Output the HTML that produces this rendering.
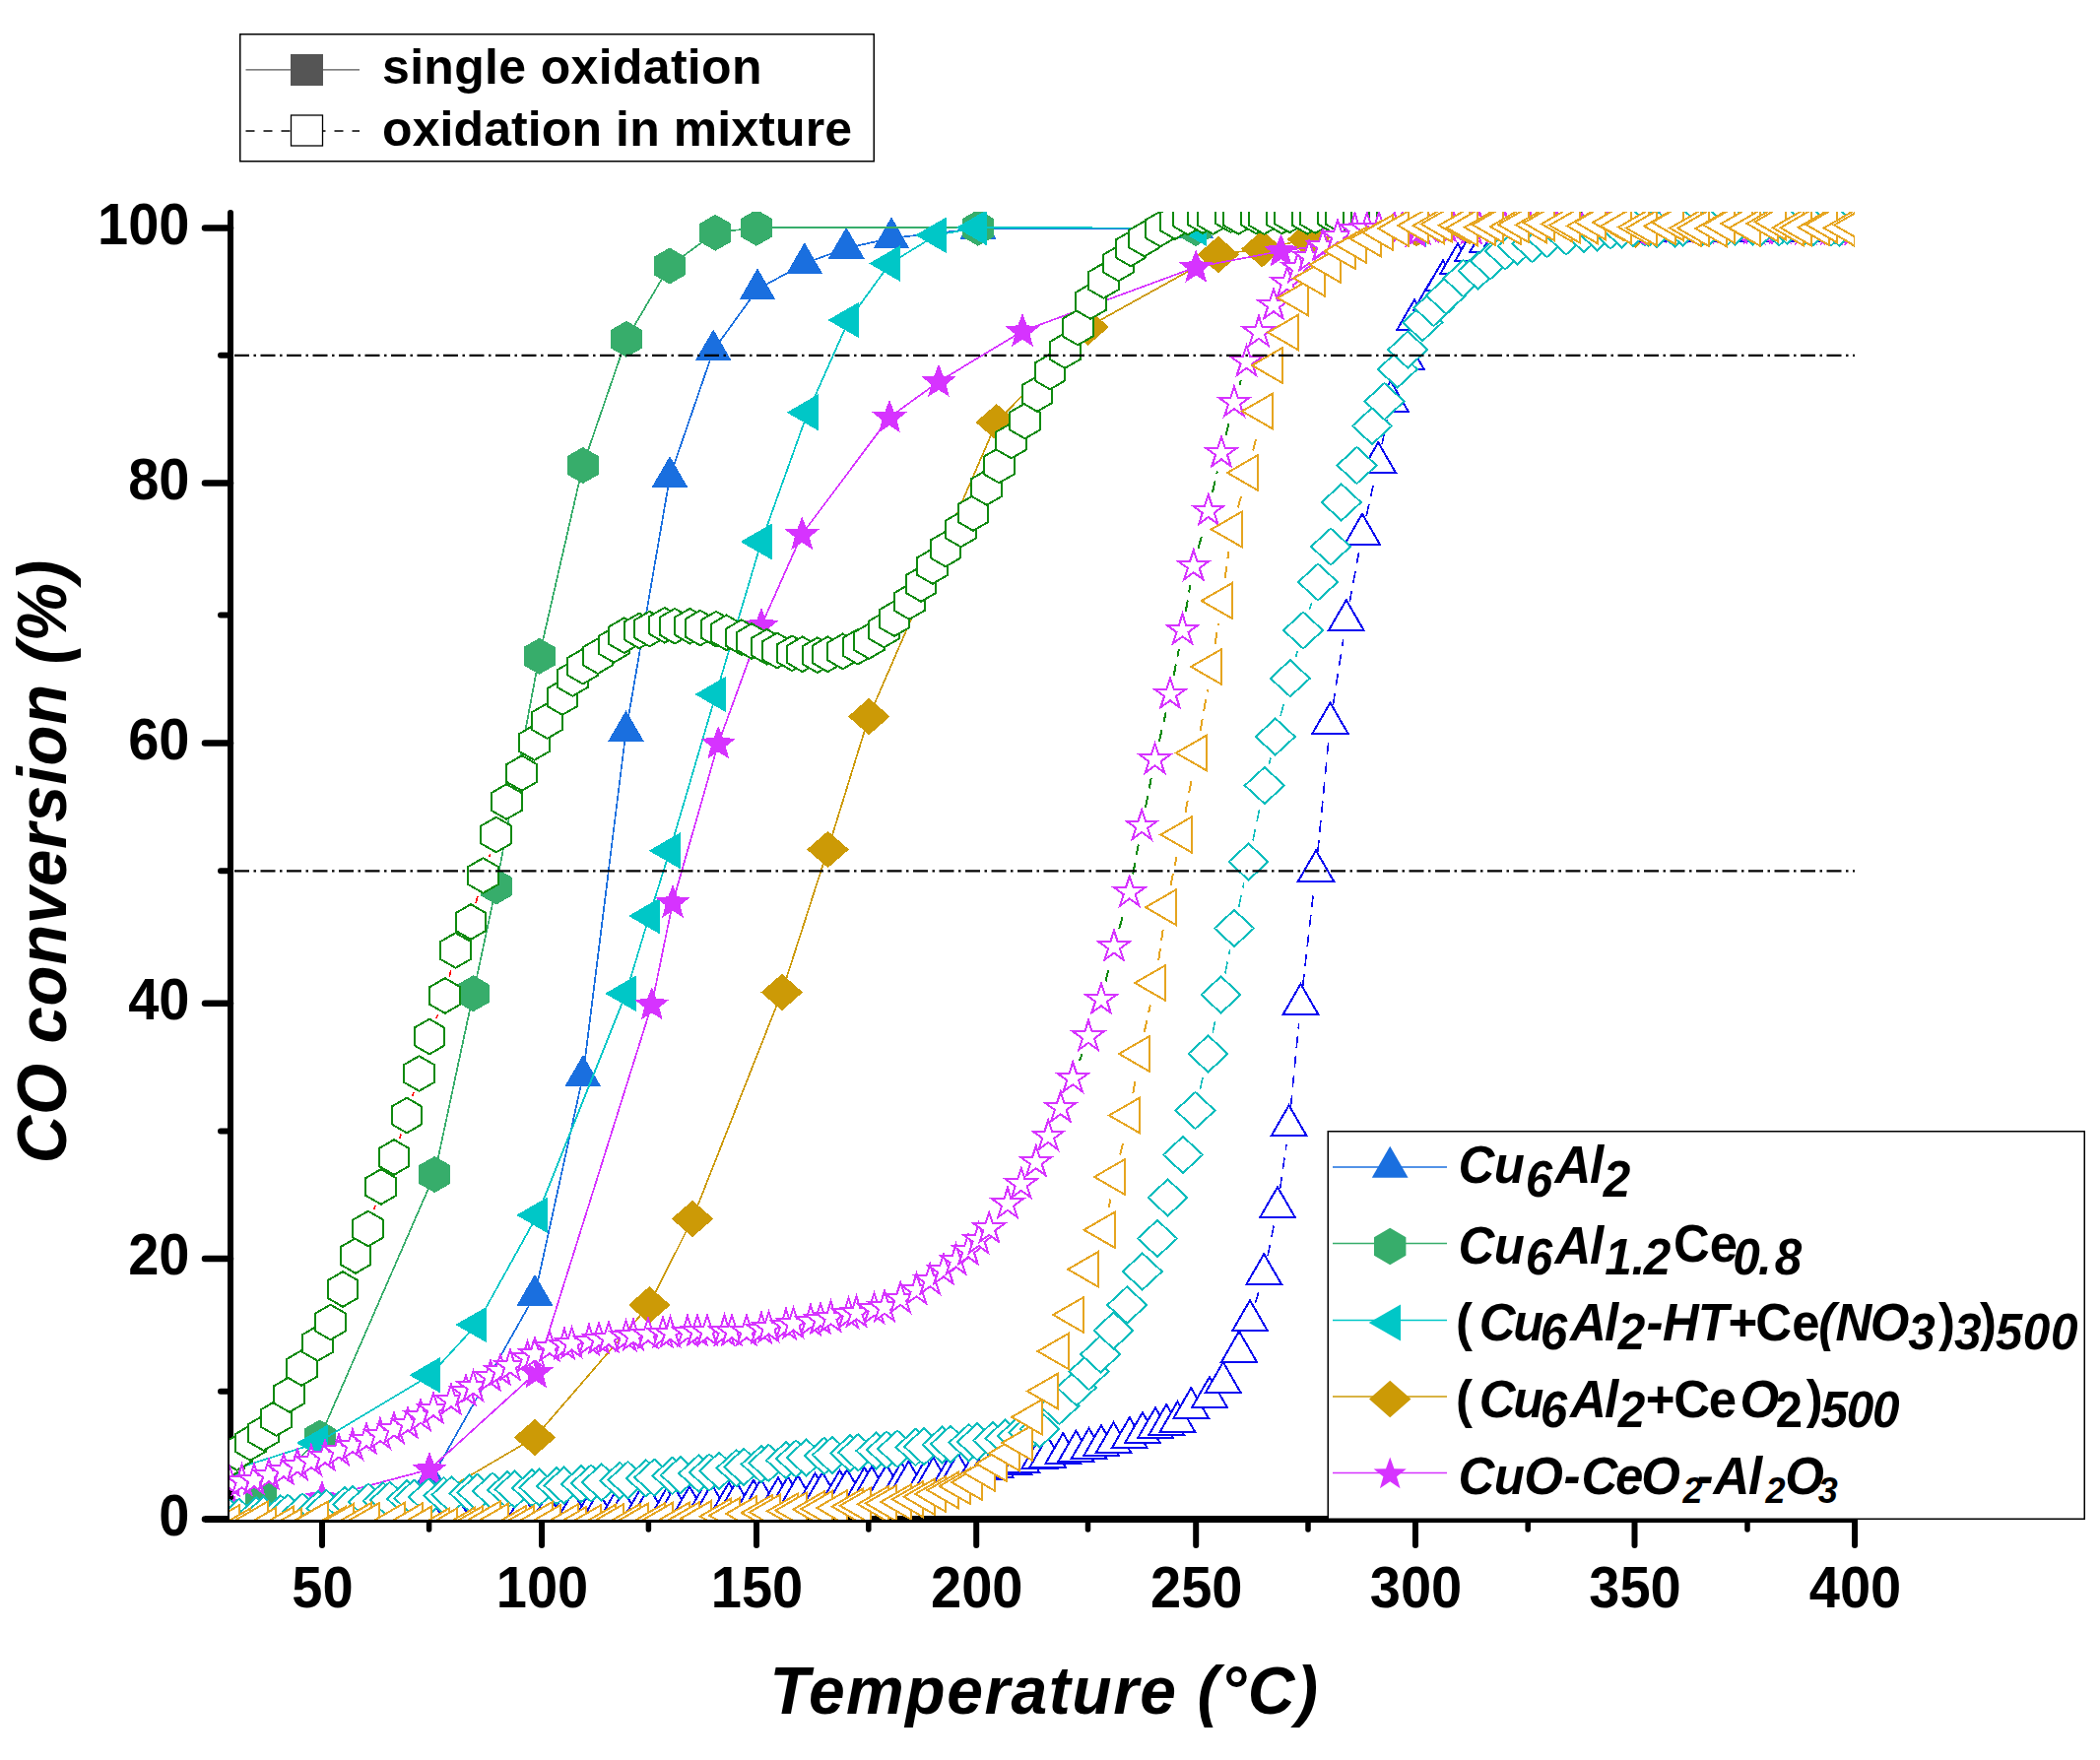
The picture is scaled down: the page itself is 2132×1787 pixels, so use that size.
<!DOCTYPE html>
<html lang="en"><head><meta charset="utf-8"><title>CO conversion vs temperature</title>
<style>html,body{margin:0;padding:0;background:#fff}svg{display:block}</style></head>
<body>
<svg width="2132" height="1787" viewBox="0 0 2132 1787">
<rect width="2132" height="1787" fill="#fff"/>
<defs><clipPath id="c"><rect x="233" y="215" width="1650" height="1328"/></clipPath></defs>
<g stroke="#000" stroke-linecap="round" fill="none">
<line x1="234" y1="216" x2="234" y2="1542.5" stroke-width="6"/>
<line x1="208" y1="1542.5" x2="1883" y2="1542.5" stroke-width="7" stroke-linecap="butt"/>
<line x1="208" y1="1542.5" x2="234" y2="1542.5" stroke-width="6.5"/>
<line x1="224" y1="1412.7" x2="234" y2="1412.7" stroke-width="6"/>
<line x1="208" y1="1278.0" x2="234" y2="1278.0" stroke-width="6.5"/>
<line x1="224" y1="1148.6" x2="234" y2="1148.6" stroke-width="6"/>
<line x1="208" y1="1018.8" x2="234" y2="1018.8" stroke-width="6.5"/>
<line x1="224" y1="884.3" x2="234" y2="884.3" stroke-width="6"/>
<line x1="208" y1="754.6" x2="234" y2="754.6" stroke-width="6.5"/>
<line x1="224" y1="624.6" x2="234" y2="624.6" stroke-width="6"/>
<line x1="208" y1="490.5" x2="234" y2="490.5" stroke-width="6.5"/>
<line x1="224" y1="360.8" x2="234" y2="360.8" stroke-width="6"/>
<line x1="208" y1="231.5" x2="234" y2="231.5" stroke-width="6.5"/>
<line x1="327.0" y1="1543" x2="327.0" y2="1569" stroke-width="6"/>
<line x1="435.6" y1="1543" x2="435.6" y2="1553" stroke-width="5.5"/>
<line x1="550.0" y1="1543" x2="550.0" y2="1569" stroke-width="6"/>
<line x1="658.4" y1="1543" x2="658.4" y2="1553" stroke-width="5.5"/>
<line x1="768.0" y1="1543" x2="768.0" y2="1569" stroke-width="6"/>
<line x1="881.8" y1="1543" x2="881.8" y2="1553" stroke-width="5.5"/>
<line x1="991.2" y1="1543" x2="991.2" y2="1569" stroke-width="6"/>
<line x1="1104.5" y1="1543" x2="1104.5" y2="1553" stroke-width="5.5"/>
<line x1="1214.2" y1="1543" x2="1214.2" y2="1569" stroke-width="6"/>
<line x1="1328.0" y1="1543" x2="1328.0" y2="1553" stroke-width="5.5"/>
<line x1="1437.0" y1="1543" x2="1437.0" y2="1569" stroke-width="6"/>
<line x1="1551.2" y1="1543" x2="1551.2" y2="1553" stroke-width="5.5"/>
<line x1="1659.5" y1="1543" x2="1659.5" y2="1569" stroke-width="6"/>
<line x1="1774.0" y1="1543" x2="1774.0" y2="1553" stroke-width="5.5"/>
<line x1="1883.0" y1="1543" x2="1883.0" y2="1569" stroke-width="6"/>
</g>
<g font-family="'Liberation Sans', Arial, sans-serif" font-weight="bold" font-size="56" fill="#000">
<text transform="translate(192.5,1558.8) scale(1,1.07)" text-anchor="end">0</text>
<text transform="translate(192.5,1294.3) scale(1,1.07)" text-anchor="end">20</text>
<text transform="translate(192.5,1035.1) scale(1,1.07)" text-anchor="end">40</text>
<text transform="translate(192.5,770.9) scale(1,1.07)" text-anchor="end">60</text>
<text transform="translate(192.5,506.8) scale(1,1.07)" text-anchor="end">80</text>
<text transform="translate(192.5,247.8) scale(1,1.07)" text-anchor="end">100</text>
<text transform="translate(327.5,1631.7) scale(1,1.07)" text-anchor="middle">50</text>
<text transform="translate(550.5,1631.7) scale(1,1.07)" text-anchor="middle">100</text>
<text transform="translate(768.5,1631.7) scale(1,1.07)" text-anchor="middle">150</text>
<text transform="translate(991.8,1631.7) scale(1,1.07)" text-anchor="middle">200</text>
<text transform="translate(1214.8,1631.7) scale(1,1.07)" text-anchor="middle">250</text>
<text transform="translate(1437.5,1631.7) scale(1,1.07)" text-anchor="middle">300</text>
<text transform="translate(1660.0,1631.7) scale(1,1.07)" text-anchor="middle">350</text>
<text transform="translate(1883.5,1631.7) scale(1,1.07)" text-anchor="middle">400</text>
</g>
<g font-family="'Liberation Sans', Arial, sans-serif" font-weight="bold" font-style="italic" fill="#000">
<text id="xt" transform="translate(781.5,1739.5) scale(1,1.04)" font-size="66" textLength="556.5" lengthAdjust="spacing">Temperature (°C)</text>
<text id="yt" transform="translate(67,1181.2) rotate(-90) scale(1,1.04)" font-size="67" textLength="612.5" lengthAdjust="spacing">CO conversion (%)</text>
</g>
<g clip-path="url(#c)" shape-rendering="crispEdges">
<polyline points="275.3,1539.0 327.0,1539.0 437.0,1503.0 543.0,1315.0 591.8,1092.5 635.5,742.5 680.0,484.4 724.2,355.8 769.0,293.8 816.8,267.5 859.2,252.0 905.0,241.8 993.0,232.0 1214.0,231.5" fill="none" stroke="#1a6fdf" stroke-width="1.7"/>
<path d="M275.3 1517.7L293.7 1549.7L256.9 1549.7ZM327.0 1517.7L345.4 1549.7L308.6 1549.7ZM437.0 1481.7L455.4 1513.7L418.6 1513.7ZM543.0 1293.7L561.4 1325.7L524.6 1325.7ZM591.8 1071.2L610.2 1103.2L573.3 1103.2ZM635.5 721.2L653.9 753.1L617.1 753.1ZM680.0 463.1L698.4 495.0L661.6 495.0ZM724.2 334.4L742.7 366.4L705.8 366.4ZM769.0 272.4L787.4 304.4L750.6 304.4ZM816.8 246.2L835.2 278.1L798.3 278.1ZM859.2 230.7L877.7 262.6L840.8 262.6ZM905.0 220.4L923.4 252.4L886.6 252.4ZM993.0 210.7L1011.4 242.7L974.6 242.7ZM1214.0 210.2L1232.4 242.2L1195.6 242.2Z" fill="#1a6fdf"/>
<polyline points="265.3,1518.5 324.5,1460.0 441.2,1192.5 480.5,1008.8 503.8,900.0 547.5,666.2 591.8,472.5 636.0,344.2 679.8,270.0 726.2,236.2 768.0,231.2 993.0,231.2 1214.0,231.5" fill="none" stroke="#37ad6b" stroke-width="1.7"/>
<path d="M265.3 1500.0L281.3 1509.2L281.3 1527.8L265.3 1537.0L249.3 1527.8L249.3 1509.2ZM324.5 1441.5L340.5 1450.8L340.5 1469.2L324.5 1478.5L308.5 1469.2L308.5 1450.8ZM441.2 1174.0L457.3 1183.2L457.3 1201.8L441.2 1211.0L425.2 1201.8L425.2 1183.2ZM480.5 990.2L496.5 999.5L496.5 1018.0L480.5 1027.2L464.5 1018.0L464.5 999.5ZM503.8 881.5L519.8 890.8L519.8 909.2L503.8 918.5L487.7 909.2L487.7 890.8ZM547.5 647.8L563.5 657.0L563.5 675.5L547.5 684.8L531.5 675.5L531.5 657.0ZM591.8 454.0L607.8 463.2L607.8 481.8L591.8 491.0L575.7 481.8L575.7 463.2ZM636.0 325.8L652.0 335.0L652.0 353.5L636.0 362.8L620.0 353.5L620.0 335.0ZM679.8 251.5L695.8 260.8L695.8 279.2L679.8 288.5L663.7 279.2L663.7 260.8ZM726.2 217.8L742.3 227.0L742.3 245.5L726.2 254.8L710.2 245.5L710.2 227.0ZM768.0 212.8L784.0 222.0L784.0 240.5L768.0 249.8L752.0 240.5L752.0 222.0ZM993.0 212.8L1009.0 222.0L1009.0 240.5L993.0 249.8L977.0 240.5L977.0 222.0ZM1214.0 213.0L1230.0 222.2L1230.0 240.8L1214.0 250.0L1198.0 240.8L1198.0 222.2Z" fill="#37ad6b"/>
<polyline points="233.7,1493.0 322.2,1465.0 436.8,1396.2 483.8,1345.0 545.5,1233.8 635.5,1008.8 659.2,930.0 680.0,863.8 726.8,705.0 773.0,550.0 820.0,418.8 861.8,325.0 903.5,267.5 950.5,238.8 991.8,231.2 1214.0,231.5 1437.0,232.0 1660.0,232.0 1883.0,232.0" fill="none" stroke="#00c7c7" stroke-width="1.7"/>
<path d="M212.4 1493.0L244.3 1474.6L244.3 1511.4ZM300.9 1465.0L332.8 1446.6L332.8 1483.4ZM415.4 1396.2L447.4 1377.8L447.4 1414.7ZM462.4 1345.0L494.4 1326.6L494.4 1363.4ZM524.2 1233.8L556.1 1215.3L556.1 1252.2ZM614.2 1008.8L646.1 990.3L646.1 1027.2ZM638.0 930.0L669.9 911.6L669.9 948.4ZM658.7 863.8L690.6 845.3L690.6 882.2ZM705.5 705.0L737.4 686.6L737.4 723.4ZM751.7 550.0L783.6 531.6L783.6 568.4ZM798.7 418.8L830.6 400.3L830.6 437.2ZM840.5 325.0L872.4 306.6L872.4 343.4ZM882.2 267.5L914.1 249.1L914.1 285.9ZM929.2 238.8L961.1 220.3L961.1 257.2ZM970.5 231.2L1002.4 212.8L1002.4 249.7ZM1192.7 231.5L1224.7 213.1L1224.7 249.9ZM1415.7 232.0L1447.7 213.6L1447.7 250.4ZM1638.7 232.0L1670.7 213.6L1670.7 250.4ZM1861.7 232.0L1893.7 213.6L1893.7 250.4Z" fill="#00c7c7"/>
<polyline points="327.0,1541.0 436.8,1522.0 543.0,1459.5 659.2,1325.0 703.0,1237.5 793.8,1007.5 840.5,862.5 882.2,727.5 1011.8,428.8 1104.5,332.0 1236.8,258.5 1281.4,252.6 1328.0,243.0 1438.0,232.0 1660.5,233.0 1883.0,233.0" fill="none" stroke="#cc9a06" stroke-width="1.7"/>
<path d="M305.8 1541.0L327.0 1522.2L348.2 1541.0L327.0 1559.8ZM415.5 1522.0L436.8 1503.2L458.0 1522.0L436.8 1540.8ZM521.8 1459.5L543.0 1440.8L564.2 1459.5L543.0 1478.2ZM638.0 1325.0L659.2 1306.2L680.5 1325.0L659.2 1343.8ZM681.8 1237.5L703.0 1218.8L724.2 1237.5L703.0 1256.2ZM772.5 1007.5L793.8 988.8L815.0 1007.5L793.8 1026.2ZM819.2 862.5L840.5 843.8L861.8 862.5L840.5 881.2ZM861.0 727.5L882.2 708.8L903.5 727.5L882.2 746.2ZM990.5 428.8L1011.8 410.0L1033.0 428.8L1011.8 447.5ZM1083.2 332.0L1104.5 313.2L1125.8 332.0L1104.5 350.8ZM1215.5 258.5L1236.8 239.8L1258.0 258.5L1236.8 277.2ZM1260.2 252.6L1281.4 233.8L1302.7 252.6L1281.4 271.4ZM1306.8 243.0L1328.0 224.2L1349.2 243.0L1328.0 261.8ZM1416.8 232.0L1438.0 213.2L1459.2 232.0L1438.0 250.8ZM1639.2 233.0L1660.5 214.2L1681.8 233.0L1660.5 251.8ZM1861.8 233.0L1883.0 214.2L1904.2 233.0L1883.0 251.8Z" fill="#cc9a06"/>
<polyline points="238.0,1536.0 327.0,1521.0 436.0,1492.0 544.2,1393.8 661.8,1020.0 683.0,916.2 729.2,755.0 773.0,635.0 814.2,542.5 903.0,423.8 953.0,387.5 1038.0,336.2 1214.2,271.2 1300.5,255.0 1437.0,236.0 1660.0,234.0 1883.0,234.0" fill="none" stroke="#d633ff" stroke-width="1.7"/>
<path d="M238.0 1517.9L242.6 1530.1L255.7 1530.8L245.5 1538.9L248.9 1551.5L238.0 1544.4L227.1 1551.5L230.5 1538.9L220.3 1530.8L233.4 1530.1ZM327.0 1502.9L331.6 1515.1L344.7 1515.8L334.5 1523.9L337.9 1536.5L327.0 1529.4L316.1 1536.5L319.5 1523.9L309.3 1515.8L322.4 1515.1ZM436.0 1473.9L440.6 1486.1L453.7 1486.8L443.5 1494.9L446.9 1507.5L436.0 1500.4L425.1 1507.5L428.5 1494.9L418.3 1486.8L431.4 1486.1ZM544.2 1375.7L548.9 1387.9L561.9 1388.5L551.8 1396.7L555.2 1409.3L544.2 1402.2L533.3 1409.3L536.7 1396.7L526.6 1388.5L539.6 1387.9ZM661.8 1001.9L666.4 1014.1L679.4 1014.8L669.3 1022.9L672.7 1035.5L661.8 1028.4L650.8 1035.5L654.2 1022.9L644.1 1014.8L657.1 1014.1ZM683.0 898.1L687.6 910.4L700.7 911.0L690.5 919.2L693.9 931.8L683.0 924.6L672.1 931.8L675.5 919.2L665.3 911.0L678.4 910.4ZM729.2 736.9L733.9 749.1L746.9 749.8L736.8 757.9L740.2 770.5L729.2 763.4L718.3 770.5L721.7 757.9L711.6 749.8L724.6 749.1ZM773.0 616.9L777.6 629.1L790.7 629.8L780.5 637.9L783.9 650.5L773.0 643.4L762.1 650.5L765.5 637.9L755.3 629.8L768.4 629.1ZM814.2 524.4L818.9 536.6L831.9 537.3L821.8 545.4L825.2 558.0L814.2 550.9L803.3 558.0L806.7 545.4L796.6 537.3L809.6 536.6ZM903.0 405.6L907.6 417.9L920.7 418.5L910.5 426.7L913.9 439.3L903.0 432.1L892.1 439.3L895.5 426.7L885.3 418.5L898.4 417.9ZM953.0 369.4L957.6 381.6L970.7 382.3L960.5 390.4L963.9 403.0L953.0 395.9L942.1 403.0L945.5 390.4L935.3 382.3L948.4 381.6ZM1038.0 318.1L1042.6 330.4L1055.7 331.0L1045.5 339.2L1048.9 351.8L1038.0 344.6L1027.1 351.8L1030.5 339.2L1020.3 331.0L1033.4 330.4ZM1214.2 253.2L1218.9 265.4L1231.9 266.0L1221.8 274.2L1225.2 286.8L1214.2 279.6L1203.3 286.8L1206.7 274.2L1196.6 266.0L1209.6 265.4ZM1300.5 236.9L1305.1 249.1L1318.2 249.8L1308.0 257.9L1311.4 270.5L1300.5 263.4L1289.6 270.5L1293.0 257.9L1282.8 249.8L1295.9 249.1ZM1437.0 217.9L1441.6 230.1L1454.7 230.8L1444.5 238.9L1447.9 251.5L1437.0 244.4L1426.1 251.5L1429.5 238.9L1419.3 230.8L1432.4 230.1ZM1660.0 215.9L1664.6 228.1L1677.7 228.8L1667.5 236.9L1670.9 249.5L1660.0 242.4L1649.1 249.5L1652.5 236.9L1642.3 228.8L1655.4 228.1ZM1883.0 215.9L1887.6 228.1L1900.7 228.8L1890.5 236.9L1893.9 249.5L1883.0 242.4L1872.1 249.5L1875.5 236.9L1865.3 228.8L1878.4 228.1Z" fill="#d633ff"/>
<path d="M1274.5 1322.8L1277.7 1312.2M1287.0 1275.4L1293.2 1244.6M1299.6 1207.2L1306.0 1161.8M1310.4 1124.1L1318.7 1038.7M1322.7 1000.9L1333.8 903.1M1337.8 865.3L1348.7 753.2M1353.4 715.5L1363.8 648.8M1370.2 611.3L1379.5 561.2M1387.2 524.0L1395.1 488.5M1403.0 451.4L1408.0 426.1M1418.5 389.8L1421.2 382.7" fill="none" stroke="#0a0af0" stroke-width="1.6" stroke-dasharray="12 8"/>
<g fill="#fff" stroke="#0a0af0" stroke-width="2.0">
<path d="M233.0 1524.2L251.0 1555.4L215.0 1555.4Z"/>
<path d="M243.3 1525.5L261.4 1556.7L225.3 1556.7Z"/>
<path d="M261.2 1522.4L279.2 1553.6L243.2 1553.6Z"/>
<path d="M269.0 1524.9L287.1 1556.1L251.0 1556.1Z"/>
<path d="M286.9 1524.2L304.9 1555.4L268.9 1555.4Z"/>
<path d="M294.7 1524.9L312.7 1556.1L276.7 1556.1Z"/>
<path d="M312.6 1523.7L330.6 1554.9L294.6 1554.9Z"/>
<path d="M320.4 1521.9L338.4 1553.1L302.4 1553.1Z"/>
<path d="M338.3 1523.7L356.3 1554.9L320.3 1554.9Z"/>
<path d="M346.1 1522.5L364.1 1553.7L328.1 1553.7Z"/>
<path d="M364.0 1521.8L382.0 1553.0L345.9 1553.0Z"/>
<path d="M371.8 1521.7L389.8 1552.9L353.8 1552.9Z"/>
<path d="M389.7 1523.5L407.7 1554.7L371.6 1554.7Z"/>
<path d="M400.0 1522.2L418.0 1553.4L382.0 1553.4Z"/>
<path d="M410.8 1521.7L428.8 1552.9L392.8 1552.9Z"/>
<path d="M429.2 1521.0L447.2 1552.2L411.2 1552.2Z"/>
<path d="M437.5 1520.6L455.5 1551.8L419.5 1551.8Z"/>
<path d="M455.8 1519.9L473.8 1551.1L437.8 1551.1Z"/>
<path d="M464.2 1519.5L482.2 1550.7L446.2 1550.7Z"/>
<path d="M482.5 1518.8L500.5 1550.0L464.5 1550.0Z"/>
<path d="M490.8 1518.4L508.8 1549.6L472.8 1549.6Z"/>
<path d="M509.2 1517.7L527.2 1548.9L491.2 1548.9Z"/>
<path d="M520.0 1517.2L538.0 1548.4L502.0 1548.4Z"/>
<path d="M530.4 1516.2L548.4 1547.4L512.3 1547.4Z"/>
<path d="M548.2 1516.3L566.2 1547.5L530.2 1547.5Z"/>
<path d="M556.1 1515.9L574.1 1547.1L538.1 1547.1Z"/>
<path d="M573.9 1513.7L591.9 1544.9L555.9 1544.9Z"/>
<path d="M581.8 1514.6L599.8 1545.8L563.8 1545.8Z"/>
<path d="M599.6 1513.5L617.7 1544.7L581.6 1544.7Z"/>
<path d="M607.5 1514.2L625.5 1545.4L589.5 1545.4Z"/>
<path d="M625.4 1513.5L643.4 1544.7L607.3 1544.7Z"/>
<path d="M633.2 1513.5L651.2 1544.7L615.2 1544.7Z"/>
<path d="M651.1 1510.1L669.1 1541.3L633.1 1541.3Z"/>
<path d="M658.9 1509.9L676.9 1541.1L640.9 1541.1Z"/>
<path d="M676.8 1511.0L694.8 1542.2L658.8 1542.2Z"/>
<path d="M684.6 1510.0L702.7 1541.2L666.6 1541.2Z"/>
<path d="M700.0 1509.2L718.0 1540.4L682.0 1540.4Z"/>
<path d="M715.0 1507.7L733.0 1538.9L697.0 1538.9Z"/>
<path d="M722.5 1507.0L740.5 1538.2L704.5 1538.2Z"/>
<path d="M740.0 1505.2L758.0 1536.4L722.0 1536.4Z"/>
<path d="M747.5 1504.5L765.5 1535.7L729.5 1535.7Z"/>
<path d="M765.0 1502.7L783.0 1533.9L747.0 1533.9Z"/>
<path d="M772.5 1502.0L790.5 1533.2L754.5 1533.2Z"/>
<path d="M790.0 1500.2L808.0 1531.4L772.0 1531.4Z"/>
<path d="M800.0 1499.2L818.0 1530.4L782.0 1530.4Z"/>
<path d="M810.0 1498.0L828.0 1529.2L792.0 1529.2Z"/>
<path d="M827.5 1495.9L845.5 1527.1L809.5 1527.1Z"/>
<path d="M835.0 1495.0L853.0 1526.2L817.0 1526.2Z"/>
<path d="M852.5 1492.9L870.5 1524.1L834.5 1524.1Z"/>
<path d="M860.0 1492.0L878.0 1523.2L842.0 1523.2Z"/>
<path d="M877.5 1489.9L895.5 1521.1L859.5 1521.1Z"/>
<path d="M885.0 1489.0L903.0 1520.2L867.0 1520.2Z"/>
<path d="M900.0 1487.2L918.0 1518.4L882.0 1518.4Z"/>
<path d="M915.0 1484.8L933.0 1516.0L897.0 1516.0Z"/>
<path d="M922.5 1483.6L940.5 1514.8L904.5 1514.8Z"/>
<path d="M940.0 1480.8L958.0 1512.0L922.0 1512.0Z"/>
<path d="M947.5 1479.6L965.5 1510.8L929.5 1510.8Z"/>
<path d="M965.0 1476.8L983.0 1508.0L947.0 1508.0Z"/>
<path d="M972.5 1475.6L990.5 1506.8L954.5 1506.8Z"/>
<path d="M990.0 1472.8L1008.0 1504.0L972.0 1504.0Z"/>
<path d="M1000.0 1471.2L1018.0 1502.4L982.0 1502.4Z"/>
<path d="M1010.7 1469.0L1028.7 1500.2L992.7 1500.2Z"/>
<path d="M1028.9 1465.4L1046.9 1496.6L1010.9 1496.6Z"/>
<path d="M1037.1 1463.7L1055.1 1494.9L1019.1 1494.9Z"/>
<path d="M1055.3 1460.0L1073.3 1491.2L1037.3 1491.2Z"/>
<path d="M1063.5 1458.4L1081.6 1489.6L1045.5 1489.6Z"/>
<path d="M1079.2 1455.2L1097.3 1486.4L1061.2 1486.4Z"/>
<path d="M1092.4 1452.7L1110.4 1483.9L1074.4 1483.9Z"/>
<path d="M1105.5 1450.2L1123.5 1481.4L1087.5 1481.4Z"/>
<path d="M1118.0 1447.2L1136.0 1478.4L1100.0 1478.4Z"/>
<path d="M1130.5 1444.2L1148.5 1475.4L1112.5 1475.4Z"/>
<path d="M1146.8 1439.2L1164.8 1470.4L1128.7 1470.4Z"/>
<path d="M1159.9 1434.2L1177.9 1465.4L1141.9 1465.4Z"/>
<path d="M1173.0 1429.2L1191.0 1460.4L1155.0 1460.4Z"/>
<path d="M1184.2 1426.1L1202.3 1457.3L1166.2 1457.3Z"/>
<path d="M1195.5 1423.0L1213.5 1454.2L1177.5 1454.2Z"/>
<path d="M1209.2 1409.2L1227.3 1440.4L1191.2 1440.4Z"/>
<path d="M1228.0 1398.0L1246.0 1429.2L1210.0 1429.2Z"/>
<path d="M1241.8 1383.0L1259.8 1414.2L1223.7 1414.2Z"/>
<path d="M1258.0 1351.7L1276.0 1382.9L1240.0 1382.9Z"/>
<path d="M1269.0 1320.2L1287.0 1351.4L1251.0 1351.4Z"/>
<path d="M1283.2 1273.2L1301.3 1304.4L1265.2 1304.4Z"/>
<path d="M1297.0 1205.2L1315.0 1236.4L1279.0 1236.4Z"/>
<path d="M1308.6 1122.2L1326.6 1153.4L1290.6 1153.4Z"/>
<path d="M1320.5 999.0L1338.5 1030.2L1302.5 1030.2Z"/>
<path d="M1336.0 863.5L1354.0 894.6L1318.0 894.6Z"/>
<path d="M1350.5 713.5L1368.5 744.6L1332.5 744.6Z"/>
<path d="M1366.8 609.2L1384.8 640.4L1348.7 640.4Z"/>
<path d="M1383.0 521.7L1401.0 552.9L1365.0 552.9Z"/>
<path d="M1399.2 449.2L1417.3 480.4L1381.2 480.4Z"/>
<path d="M1411.8 386.7L1429.8 417.9L1393.7 417.9Z"/>
<path d="M1428.0 344.2L1446.0 375.4L1410.0 375.4Z"/>
<path d="M1436.0 304.2L1454.0 335.4L1418.0 335.4Z"/>
<path d="M1453.0 284.2L1471.0 315.4L1435.0 315.4Z"/>
<path d="M1465.0 264.2L1483.0 295.4L1447.0 295.4Z"/>
<path d="M1480.0 247.2L1498.0 278.4L1462.0 278.4Z"/>
<path d="M1495.0 234.2L1513.0 265.4L1477.0 265.4Z"/>
<path d="M1510.0 225.2L1528.0 256.4L1492.0 256.4Z"/>
<path d="M1525.0 219.2L1543.0 250.4L1507.0 250.4Z"/>
<path d="M1545.0 215.2L1563.0 246.4L1527.0 246.4Z"/>
<path d="M1557.5 214.2L1575.5 245.4L1539.5 245.4Z"/>
<path d="M1570.0 213.2L1588.0 244.4L1552.0 244.4Z"/>
<path d="M1580.5 213.1L1598.6 244.3L1562.5 244.3Z"/>
<path d="M1598.6 213.3L1616.6 244.5L1580.6 244.5Z"/>
<path d="M1606.6 211.8L1624.6 243.0L1588.6 243.0Z"/>
<path d="M1624.7 211.9L1642.7 243.1L1606.7 243.1Z"/>
<path d="M1632.7 213.3L1650.7 244.5L1614.7 244.5Z"/>
<path d="M1650.8 213.7L1668.8 244.9L1632.7 244.9Z"/>
<path d="M1658.8 214.1L1676.8 245.3L1640.8 245.3Z"/>
<path d="M1676.8 213.3L1694.8 244.5L1658.8 244.5Z"/>
<path d="M1684.9 211.7L1702.9 242.9L1666.9 242.9Z"/>
<path d="M1702.9 213.9L1720.9 245.1L1684.9 245.1Z"/>
<path d="M1711.0 213.9L1729.0 245.1L1692.9 245.1Z"/>
<path d="M1729.0 214.0L1747.0 245.2L1711.0 245.2Z"/>
<path d="M1737.0 212.6L1755.1 243.8L1719.0 243.8Z"/>
<path d="M1755.1 212.0L1773.1 243.2L1737.1 243.2Z"/>
<path d="M1763.1 213.7L1781.1 244.9L1745.1 244.9Z"/>
<path d="M1781.2 211.9L1799.2 243.1L1763.2 243.1Z"/>
<path d="M1789.2 211.2L1807.2 242.4L1771.2 242.4Z"/>
<path d="M1807.2 213.5L1825.3 244.7L1789.2 244.7Z"/>
<path d="M1815.3 213.5L1833.3 244.7L1797.3 244.7Z"/>
<path d="M1833.3 213.3L1851.3 244.5L1815.3 244.5Z"/>
<path d="M1841.4 212.2L1859.4 243.4L1823.4 243.4Z"/>
<path d="M1859.4 213.4L1877.4 244.6L1841.4 244.6Z"/>
<path d="M1867.5 213.4L1885.5 244.6L1849.4 244.6Z"/>
<path d="M1883.0 212.2L1901.0 243.4L1865.0 243.4Z"/>
</g>
<path d="M379.6 1228.4L380.9 1224.1M405.9 1155.9L407.1 1151.6M418.6 1113.3L419.9 1109.2M443.1 1033.8L444.7 1029.7M456.3 991.5L457.9 984.5M483.1 916.7L485.4 908.3M496.6 869.9L497.7 866.6" fill="none" stroke="#ff0000" stroke-width="1.6" stroke-dasharray="7 6"/>
<g fill="#fff" stroke="#0f8a0f" stroke-width="2.0">
<path d="M233.0 1464.2L248.4 1473.1L248.4 1490.9L233.0 1499.8L217.6 1490.9L217.6 1473.1Z"/>
<path d="M240.5 1457.2L255.9 1466.1L255.9 1483.9L240.5 1492.8L225.1 1483.9L225.1 1466.1Z"/>
<path d="M254.2 1447.2L269.7 1456.1L269.7 1473.9L254.2 1482.8L238.8 1473.9L238.8 1456.1Z"/>
<path d="M267.5 1437.2L282.9 1446.1L282.9 1463.9L267.5 1472.8L252.1 1463.9L252.1 1446.1Z"/>
<path d="M280.5 1422.2L295.9 1431.1L295.9 1448.9L280.5 1457.8L265.1 1448.9L265.1 1431.1Z"/>
<path d="M293.8 1398.2L309.2 1407.1L309.2 1424.9L293.8 1433.8L278.3 1424.9L278.3 1407.1Z"/>
<path d="M306.2 1371.2L321.7 1380.1L321.7 1397.9L306.2 1406.8L290.8 1397.9L290.8 1380.1Z"/>
<path d="M322.5 1346.2L337.9 1355.1L337.9 1372.9L322.5 1381.8L307.1 1372.9L307.1 1355.1Z"/>
<path d="M335.5 1324.7L350.9 1333.6L350.9 1351.4L335.5 1360.3L320.1 1351.4L320.1 1333.6Z"/>
<path d="M348.0 1291.2L363.4 1300.1L363.4 1317.9L348.0 1326.8L332.6 1317.9L332.6 1300.1Z"/>
<path d="M361.0 1257.2L376.4 1266.1L376.4 1283.9L361.0 1292.8L345.6 1283.9L345.6 1266.1Z"/>
<path d="M373.8 1229.7L389.2 1238.6L389.2 1256.4L373.8 1265.3L358.3 1256.4L358.3 1238.6Z"/>
<path d="M386.8 1187.2L402.2 1196.1L402.2 1213.9L386.8 1222.8L371.3 1213.9L371.3 1196.1Z"/>
<path d="M400.0 1157.2L415.4 1166.1L415.4 1183.9L400.0 1192.8L384.6 1183.9L384.6 1166.1Z"/>
<path d="M413.0 1114.7L428.4 1123.6L428.4 1141.4L413.0 1150.3L397.6 1141.4L397.6 1123.6Z"/>
<path d="M425.5 1072.2L440.9 1081.1L440.9 1098.9L425.5 1107.8L410.1 1098.9L410.1 1081.1Z"/>
<path d="M436.0 1034.7L451.4 1043.6L451.4 1061.4L436.0 1070.3L420.6 1061.4L420.6 1043.6Z"/>
<path d="M451.8 993.2L467.2 1002.1L467.2 1019.9L451.8 1028.8L436.3 1019.9L436.3 1002.1Z"/>
<path d="M462.5 947.2L477.9 956.1L477.9 973.9L462.5 982.8L447.1 973.9L447.1 956.1Z"/>
<path d="M478.0 918.2L493.4 927.1L493.4 944.9L478.0 953.8L462.6 944.9L462.6 927.1Z"/>
<path d="M490.5 871.2L505.9 880.1L505.9 897.9L490.5 906.8L475.1 897.9L475.1 880.1Z"/>
<path d="M503.8 829.7L519.2 838.6L519.2 856.4L503.8 865.3L488.3 856.4L488.3 838.6Z"/>
<path d="M514.2 796.2L529.7 805.1L529.7 822.9L514.2 831.8L498.8 822.9L498.8 805.1Z"/>
<path d="M529.8 767.2L545.2 776.1L545.2 793.9L529.8 802.8L514.3 793.9L514.3 776.1Z"/>
<path d="M542.5 736.2L557.9 745.1L557.9 762.9L542.5 771.8L527.1 762.9L527.1 745.1Z"/>
<path d="M555.6 714.2L571.0 723.1L571.0 740.9L555.6 749.8L540.2 740.9L540.2 723.1Z"/>
<path d="M570.9 690.2L586.3 699.1L586.3 716.9L570.9 725.8L555.5 716.9L555.5 699.1Z"/>
<path d="M581.3 671.2L596.7 680.1L596.7 697.9L581.3 706.8L565.9 697.9L565.9 680.1Z"/>
<path d="M591.8 658.9L607.2 667.8L607.2 685.6L591.8 694.5L576.4 685.6L576.4 667.8Z"/>
<path d="M607.0 648.4L622.4 657.3L622.4 675.1L607.0 684.0L591.6 675.1L591.6 657.3Z"/>
<path d="M623.2 637.0L638.6 645.9L638.6 663.7L623.2 672.6L607.8 663.7L607.8 645.9Z"/>
<path d="M633.7 627.4L649.1 636.3L649.1 654.1L633.7 663.0L618.3 654.1L618.3 636.3Z"/>
<path d="M649.0 622.7L664.4 631.6L664.4 649.4L649.0 658.3L633.6 649.4L633.6 631.6Z"/>
<path d="M659.4 620.8L674.8 629.7L674.8 647.5L659.4 656.4L644.0 647.5L644.0 629.7Z"/>
<path d="M674.7 617.0L690.1 625.9L690.1 643.7L674.7 652.6L659.3 643.7L659.3 625.9Z"/>
<path d="M685.1 617.9L700.5 626.8L700.5 644.6L685.1 653.5L669.7 644.6L669.7 626.8Z"/>
<path d="M700.4 617.9L715.8 626.8L715.8 644.6L700.4 653.5L685.0 644.6L685.0 626.8Z"/>
<path d="M710.9 619.8L726.3 628.7L726.3 646.5L710.9 655.4L695.5 646.5L695.5 628.7Z"/>
<path d="M727.0 620.8L742.4 629.7L742.4 647.5L727.0 656.4L711.6 647.5L711.6 629.7Z"/>
<path d="M737.5 624.6L752.9 633.5L752.9 651.3L737.5 660.2L722.1 651.3L722.1 633.5Z"/>
<path d="M752.8 629.3L768.2 638.2L768.2 656.0L752.8 664.9L737.4 656.0L737.4 638.2Z"/>
<path d="M763.2 633.2L778.6 642.1L778.6 659.9L763.2 668.8L747.8 659.9L747.8 642.1Z"/>
<path d="M778.5 638.9L793.9 647.8L793.9 665.6L778.5 674.5L763.1 665.6L763.1 647.8Z"/>
<path d="M789.0 642.7L804.4 651.6L804.4 669.4L789.0 678.3L773.6 669.4L773.6 651.6Z"/>
<path d="M804.2 645.5L819.6 654.4L819.6 672.2L804.2 681.1L788.8 672.2L788.8 654.4Z"/>
<path d="M814.7 646.5L830.1 655.4L830.1 673.2L814.7 682.1L799.3 673.2L799.3 655.4Z"/>
<path d="M829.9 647.4L845.3 656.3L845.3 674.1L829.9 683.0L814.5 674.1L814.5 656.3Z"/>
<path d="M840.4 646.5L855.8 655.4L855.8 673.2L840.4 682.1L825.0 673.2L825.0 655.4Z"/>
<path d="M855.6 643.6L871.0 652.5L871.0 670.3L855.6 679.2L840.2 670.3L840.2 652.5Z"/>
<path d="M870.9 638.9L886.3 647.8L886.3 665.6L870.9 674.5L855.5 665.6L855.5 647.8Z"/>
<path d="M882.3 633.2L897.7 642.1L897.7 659.9L882.3 668.8L866.9 659.9L866.9 642.1Z"/>
<path d="M897.5 621.7L912.9 630.6L912.9 648.4L897.5 657.3L882.1 648.4L882.1 630.6Z"/>
<path d="M908.0 610.3L923.4 619.2L923.4 637.0L908.0 645.9L892.6 637.0L892.6 619.2Z"/>
<path d="M923.2 593.2L938.6 602.1L938.6 619.9L923.2 628.8L907.8 619.9L907.8 602.1Z"/>
<path d="M935.0 575.2L950.4 584.1L950.4 601.9L935.0 610.8L919.6 601.9L919.6 584.1Z"/>
<path d="M946.8 557.2L962.2 566.1L962.2 583.9L946.8 592.8L931.3 583.9L931.3 566.1Z"/>
<path d="M960.0 539.7L975.4 548.6L975.4 566.4L960.0 575.3L944.6 566.4L944.6 548.6Z"/>
<path d="M975.5 519.7L990.9 528.6L990.9 546.4L975.5 555.3L960.1 546.4L960.1 528.6Z"/>
<path d="M988.0 503.2L1003.4 512.1L1003.4 529.9L988.0 538.8L972.6 529.9L972.6 512.1Z"/>
<path d="M1001.8 477.2L1017.2 486.1L1017.2 503.9L1001.8 512.8L986.3 503.9L986.3 486.1Z"/>
<path d="M1014.2 454.7L1029.7 463.6L1029.7 481.4L1014.2 490.3L998.8 481.4L998.8 463.6Z"/>
<path d="M1026.8 429.7L1042.2 438.6L1042.2 456.4L1026.8 465.3L1011.3 456.4L1011.3 438.6Z"/>
<path d="M1040.5 409.7L1055.9 418.6L1055.9 436.4L1040.5 445.3L1025.1 436.4L1025.1 418.6Z"/>
<path d="M1053.0 382.2L1068.4 391.1L1068.4 408.9L1053.0 417.8L1037.6 408.9L1037.6 391.1Z"/>
<path d="M1066.0 359.7L1081.4 368.6L1081.4 386.4L1066.0 395.3L1050.6 386.4L1050.6 368.6Z"/>
<path d="M1081.2 338.2L1096.7 347.1L1096.7 364.9L1081.2 373.8L1065.8 364.9L1065.8 347.1Z"/>
<path d="M1094.2 314.7L1109.7 323.6L1109.7 341.4L1094.2 350.3L1078.8 341.4L1078.8 323.6Z"/>
<path d="M1107.2 288.2L1122.7 297.1L1122.7 314.9L1107.2 323.8L1091.8 314.9L1091.8 297.1Z"/>
<path d="M1120.5 267.2L1135.9 276.1L1135.9 293.9L1120.5 302.8L1105.1 293.9L1105.1 276.1Z"/>
<path d="M1135.5 249.7L1150.9 258.6L1150.9 276.4L1135.5 285.3L1120.1 276.4L1120.1 258.6Z"/>
<path d="M1148.0 234.7L1163.4 243.6L1163.4 261.4L1148.0 270.3L1132.6 261.4L1132.6 243.6Z"/>
<path d="M1161.8 224.7L1177.2 233.6L1177.2 251.4L1161.8 260.3L1146.3 251.4L1146.3 233.6Z"/>
<path d="M1178.0 214.7L1193.4 223.6L1193.4 241.4L1178.0 250.3L1162.6 241.4L1162.6 223.6Z"/>
<path d="M1193.0 207.2L1208.4 216.1L1208.4 233.9L1193.0 242.8L1177.6 233.9L1177.6 216.1Z"/>
<path d="M1206.0 202.7L1221.4 211.6L1221.4 229.4L1206.0 238.3L1190.6 229.4L1190.6 211.6Z"/>
<path d="M1221.0 201.2L1236.4 210.1L1236.4 227.9L1221.0 236.8L1205.6 227.9L1205.6 210.1Z"/>
<path d="M1231.5 202.2L1246.9 211.1L1246.9 228.9L1231.5 237.8L1216.1 228.9L1216.1 211.1Z"/>
<path d="M1249.5 200.3L1264.9 209.2L1264.9 227.0L1249.5 235.9L1234.0 227.0L1234.0 209.2Z"/>
<path d="M1257.4 202.0L1272.9 210.9L1272.9 228.7L1257.4 237.6L1242.0 228.7L1242.0 210.9Z"/>
<path d="M1275.4 201.7L1290.8 210.6L1290.8 228.4L1275.4 237.3L1260.0 228.4L1260.0 210.6Z"/>
<path d="M1283.4 202.2L1298.8 211.1L1298.8 228.9L1283.4 237.8L1268.0 228.9L1268.0 211.1Z"/>
<path d="M1301.4 201.6L1316.8 210.5L1316.8 228.3L1301.4 237.2L1286.0 228.3L1286.0 210.5Z"/>
<path d="M1309.4 200.5L1324.8 209.4L1324.8 227.2L1309.4 236.1L1293.9 227.2L1293.9 209.4Z"/>
<path d="M1327.3 201.9L1342.8 210.8L1342.8 228.6L1327.3 237.5L1311.9 228.6L1311.9 210.8Z"/>
<path d="M1335.3 201.1L1350.7 210.0L1350.7 227.8L1335.3 236.7L1319.9 227.8L1319.9 210.0Z"/>
<path d="M1353.3 200.8L1368.7 209.7L1368.7 227.5L1353.3 236.4L1337.9 227.5L1337.9 209.7Z"/>
<path d="M1361.3 200.9L1376.7 209.8L1376.7 227.6L1361.3 236.5L1345.9 227.6L1345.9 209.8Z"/>
<path d="M1379.3 202.2L1394.7 211.1L1394.7 228.9L1379.3 237.8L1363.8 228.9L1363.8 211.1Z"/>
<path d="M1387.2 200.8L1402.7 209.7L1402.7 227.5L1387.2 236.4L1371.8 227.5L1371.8 209.7Z"/>
<path d="M1405.2 201.0L1420.6 209.9L1420.6 227.7L1405.2 236.6L1389.8 227.7L1389.8 209.9Z"/>
<path d="M1413.2 202.0L1428.6 210.9L1428.6 228.7L1413.2 237.6L1397.8 228.7L1397.8 210.9Z"/>
<path d="M1431.2 202.5L1446.6 211.4L1446.6 229.2L1431.2 238.1L1415.8 229.2L1415.8 211.4Z"/>
<path d="M1439.2 202.5L1454.6 211.4L1454.6 229.2L1439.2 238.1L1423.8 229.2L1423.8 211.4Z"/>
<path d="M1457.1 202.3L1472.6 211.2L1472.6 229.0L1457.1 237.9L1441.7 229.0L1441.7 211.2Z"/>
<path d="M1465.1 201.9L1480.5 210.8L1480.5 228.6L1465.1 237.5L1449.7 228.6L1449.7 210.8Z"/>
<path d="M1483.1 200.6L1498.5 209.5L1498.5 227.3L1483.1 236.2L1467.7 227.3L1467.7 209.5Z"/>
<path d="M1491.1 201.3L1506.5 210.2L1506.5 228.0L1491.1 236.9L1475.7 228.0L1475.7 210.2Z"/>
<path d="M1509.1 201.9L1524.5 210.8L1524.5 228.6L1509.1 237.5L1493.7 228.6L1493.7 210.8Z"/>
<path d="M1517.0 201.8L1532.5 210.7L1532.5 228.5L1517.0 237.4L1501.6 228.5L1501.6 210.7Z"/>
<path d="M1535.0 200.9L1550.4 209.8L1550.4 227.6L1535.0 236.5L1519.6 227.6L1519.6 209.8Z"/>
<path d="M1543.0 201.8L1558.4 210.7L1558.4 228.5L1543.0 237.4L1527.6 228.5L1527.6 210.7Z"/>
<path d="M1561.0 201.6L1576.4 210.5L1576.4 228.3L1561.0 237.2L1545.6 228.3L1545.6 210.5Z"/>
<path d="M1569.0 202.3L1584.4 211.2L1584.4 229.0L1569.0 237.9L1553.6 229.0L1553.6 211.2Z"/>
<path d="M1587.0 202.4L1602.4 211.3L1602.4 229.1L1587.0 238.0L1571.5 229.1L1571.5 211.3Z"/>
<path d="M1594.9 202.7L1610.3 211.6L1610.3 229.4L1594.9 238.3L1579.5 229.4L1579.5 211.6Z"/>
<path d="M1612.9 200.9L1628.3 209.8L1628.3 227.6L1612.9 236.5L1597.5 227.6L1597.5 209.8Z"/>
<path d="M1620.9 201.1L1636.3 210.0L1636.3 227.8L1620.9 236.7L1605.5 227.8L1605.5 210.0Z"/>
<path d="M1638.9 202.4L1654.3 211.3L1654.3 229.1L1638.9 238.0L1623.5 229.1L1623.5 211.3Z"/>
<path d="M1646.9 201.9L1662.3 210.8L1662.3 228.6L1646.9 237.5L1631.4 228.6L1631.4 210.8Z"/>
<path d="M1664.8 201.3L1680.2 210.2L1680.2 228.0L1664.8 236.9L1649.4 228.0L1649.4 210.2Z"/>
<path d="M1672.8 201.2L1688.2 210.1L1688.2 227.9L1672.8 236.8L1657.4 227.9L1657.4 210.1Z"/>
<path d="M1690.8 201.4L1706.2 210.3L1706.2 228.1L1690.8 237.0L1675.4 228.1L1675.4 210.3Z"/>
<path d="M1698.8 202.4L1714.2 211.3L1714.2 229.1L1698.8 238.0L1683.4 229.1L1683.4 211.3Z"/>
<path d="M1716.8 201.6L1732.2 210.5L1732.2 228.3L1716.8 237.2L1701.3 228.3L1701.3 210.5Z"/>
<path d="M1724.7 202.8L1740.2 211.7L1740.2 229.5L1724.7 238.4L1709.3 229.5L1709.3 211.7Z"/>
<path d="M1742.7 202.0L1758.1 210.9L1758.1 228.7L1742.7 237.6L1727.3 228.7L1727.3 210.9Z"/>
<path d="M1750.7 202.7L1766.1 211.6L1766.1 229.4L1750.7 238.3L1735.3 229.4L1735.3 211.6Z"/>
<path d="M1768.7 202.0L1784.1 210.9L1784.1 228.7L1768.7 237.6L1753.3 228.7L1753.3 210.9Z"/>
<path d="M1776.7 202.3L1792.1 211.2L1792.1 229.0L1776.7 237.9L1761.2 229.0L1761.2 211.2Z"/>
<path d="M1794.6 202.9L1810.1 211.8L1810.1 229.6L1794.6 238.5L1779.2 229.6L1779.2 211.8Z"/>
<path d="M1802.6 201.5L1818.0 210.4L1818.0 228.2L1802.6 237.1L1787.2 228.2L1787.2 210.4Z"/>
<path d="M1820.6 201.2L1836.0 210.1L1836.0 227.9L1820.6 236.8L1805.2 227.9L1805.2 210.1Z"/>
<path d="M1828.6 201.6L1844.0 210.5L1844.0 228.3L1828.6 237.2L1813.2 228.3L1813.2 210.5Z"/>
<path d="M1846.6 202.8L1862.0 211.7L1862.0 229.5L1846.6 238.4L1831.1 229.5L1831.1 211.7Z"/>
<path d="M1854.5 201.6L1870.0 210.5L1870.0 228.3L1854.5 237.2L1839.1 228.3L1839.1 210.5Z"/>
<path d="M1872.5 202.4L1887.9 211.3L1887.9 229.1L1872.5 238.0L1857.1 229.1L1857.1 211.3Z"/>
<path d="M1883.0 202.2L1898.4 211.1L1898.4 228.9L1883.0 237.8L1867.6 228.9L1867.6 211.1Z"/>
</g>
<path d="M1095.9 1077.2L1098.4 1070.3M1122.5 996.5L1126.5 979.7M1136.2 943.0L1141.5 924.5M1150.2 887.6L1155.8 857.4M1162.9 820.1L1168.8 789.9M1176.8 752.7L1183.7 723.5M1191.6 686.3L1196.9 658.7M1203.7 621.3L1208.5 593.7M1216.6 556.6L1221.9 537.1M1230.9 500.2L1235.8 478.5M1244.7 441.6L1248.3 427.2M1258.5 390.6L1260.0 385.7" fill="none" stroke="#0f8a0f" stroke-width="2.0" stroke-dasharray="12 8"/>
<g fill="#fff" stroke="#d633ff" stroke-width="2.0">
<path d="M233.0 1488.5L236.7 1499.9L248.7 1499.9L239.0 1506.9L242.7 1518.3L233.0 1511.3L223.3 1518.3L227.0 1506.9L217.3 1499.9L229.3 1499.9Z"/>
<path d="M245.5 1487.5L249.2 1498.9L261.2 1498.9L251.5 1505.9L255.2 1517.3L245.5 1510.3L235.8 1517.3L239.5 1505.9L229.8 1498.9L241.8 1498.9Z"/>
<path d="M258.0 1486.5L261.7 1497.9L273.7 1497.9L264.0 1504.9L267.7 1516.3L258.0 1509.3L248.3 1516.3L252.0 1504.9L242.3 1497.9L254.3 1497.9Z"/>
<path d="M273.0 1481.5L276.7 1492.9L288.7 1492.9L279.0 1499.9L282.7 1511.3L273.0 1504.3L263.3 1511.3L267.0 1499.9L257.3 1492.9L269.3 1492.9Z"/>
<path d="M288.0 1476.5L291.7 1487.9L303.7 1487.9L294.0 1494.9L297.7 1506.3L288.0 1499.3L278.3 1506.3L282.0 1494.9L272.3 1487.9L284.3 1487.9Z"/>
<path d="M302.0 1471.8L305.7 1483.2L317.7 1483.2L308.0 1490.3L311.7 1501.7L302.0 1494.6L292.3 1501.7L296.0 1490.3L286.3 1483.2L298.3 1483.2Z"/>
<path d="M316.0 1467.2L319.7 1478.6L331.7 1478.6L322.0 1485.6L325.7 1497.0L316.0 1490.0L306.3 1497.0L310.0 1485.6L300.3 1478.6L312.3 1478.6Z"/>
<path d="M330.0 1462.5L333.7 1473.9L345.7 1473.9L336.0 1480.9L339.7 1492.3L330.0 1485.3L320.3 1492.3L324.0 1480.9L314.3 1473.9L326.3 1473.9Z"/>
<path d="M344.0 1456.8L347.7 1468.2L359.7 1468.2L350.0 1475.3L353.7 1486.7L344.0 1479.6L334.3 1486.7L338.0 1475.3L328.3 1468.2L340.3 1468.2Z"/>
<path d="M358.0 1451.2L361.7 1462.6L373.7 1462.6L364.0 1469.6L367.7 1481.0L358.0 1474.0L348.3 1481.0L352.0 1469.6L342.3 1462.6L354.3 1462.6Z"/>
<path d="M372.0 1445.5L375.7 1456.9L387.7 1456.9L378.0 1463.9L381.7 1475.3L372.0 1468.3L362.3 1475.3L366.0 1463.9L356.3 1456.9L368.3 1456.9Z"/>
<path d="M386.0 1440.2L389.7 1451.6L401.7 1451.6L392.0 1458.6L395.7 1470.0L386.0 1463.0L376.3 1470.0L380.0 1458.6L370.3 1451.6L382.3 1451.6Z"/>
<path d="M400.0 1434.8L403.7 1446.2L415.7 1446.2L406.0 1453.3L409.7 1464.7L400.0 1457.6L390.3 1464.7L394.0 1453.3L384.3 1446.2L396.3 1446.2Z"/>
<path d="M414.0 1429.5L417.7 1440.9L429.7 1440.9L420.0 1447.9L423.7 1459.3L414.0 1452.3L404.3 1459.3L408.0 1447.9L398.3 1440.9L410.3 1440.9Z"/>
<path d="M427.0 1422.0L430.7 1433.4L442.7 1433.4L433.0 1440.4L436.7 1451.8L427.0 1444.8L417.3 1451.8L421.0 1440.4L411.3 1433.4L423.3 1433.4Z"/>
<path d="M440.0 1414.5L443.7 1425.9L455.7 1425.9L446.0 1432.9L449.7 1444.3L440.0 1437.3L430.3 1444.3L434.0 1432.9L424.3 1425.9L436.3 1425.9Z"/>
<path d="M458.0 1405.5L461.7 1416.9L473.7 1416.9L464.0 1423.9L467.7 1435.3L458.0 1428.3L448.3 1435.3L452.0 1423.9L442.3 1416.9L454.3 1416.9Z"/>
<path d="M473.0 1396.5L476.7 1407.9L488.7 1407.9L479.0 1414.9L482.7 1426.3L473.0 1419.3L463.3 1426.3L467.0 1414.9L457.3 1407.9L469.3 1407.9Z"/>
<path d="M480.5 1392.0L484.2 1403.4L496.2 1403.4L486.5 1410.4L490.2 1421.8L480.5 1414.8L470.8 1421.8L474.5 1410.4L464.8 1403.4L476.8 1403.4Z"/>
<path d="M498.0 1381.5L501.7 1392.9L513.7 1392.9L504.0 1399.9L507.7 1411.3L498.0 1404.3L488.3 1411.3L492.0 1399.9L482.3 1392.9L494.3 1392.9Z"/>
<path d="M508.0 1375.5L511.7 1386.9L523.7 1386.9L514.0 1393.9L517.7 1405.3L508.0 1398.3L498.3 1405.3L502.0 1393.9L492.3 1386.9L504.3 1386.9Z"/>
<path d="M518.0 1370.7L521.7 1382.1L533.7 1382.1L524.0 1389.1L527.7 1400.5L518.0 1393.5L508.3 1400.5L512.0 1389.1L502.3 1382.1L514.3 1382.1Z"/>
<path d="M535.5 1362.3L539.2 1373.7L551.2 1373.7L541.5 1380.7L545.2 1392.1L535.5 1385.1L525.8 1392.1L529.5 1380.7L519.8 1373.7L531.8 1373.7Z"/>
<path d="M543.0 1358.7L546.7 1370.1L558.7 1370.1L549.0 1377.1L552.7 1388.5L543.0 1381.5L533.3 1388.5L537.0 1377.1L527.3 1370.1L539.3 1370.1Z"/>
<path d="M558.0 1351.5L561.7 1362.9L573.7 1362.9L564.0 1369.9L567.7 1381.3L558.0 1374.3L548.3 1381.3L552.0 1369.9L542.3 1362.9L554.3 1362.9Z"/>
<path d="M573.0 1349.1L576.7 1360.5L588.7 1360.5L579.0 1367.5L582.7 1378.9L573.0 1371.9L563.3 1378.9L567.0 1367.5L557.3 1360.5L569.3 1360.5Z"/>
<path d="M580.5 1347.9L584.2 1359.3L596.2 1359.3L586.5 1366.3L590.2 1377.7L580.5 1370.7L570.8 1377.7L574.5 1366.3L564.8 1359.3L576.8 1359.3Z"/>
<path d="M598.0 1345.1L601.7 1356.5L613.7 1356.5L604.0 1363.5L607.7 1374.9L598.0 1367.9L588.3 1374.9L592.0 1363.5L582.3 1356.5L594.3 1356.5Z"/>
<path d="M608.0 1343.5L611.7 1354.9L623.7 1354.9L614.0 1361.9L617.7 1373.3L608.0 1366.3L598.3 1373.3L602.0 1361.9L592.3 1354.9L604.3 1354.9Z"/>
<path d="M618.0 1342.5L621.7 1353.9L633.7 1353.9L624.0 1360.9L627.7 1372.3L618.0 1365.3L608.3 1372.3L612.0 1360.9L602.3 1353.9L614.3 1353.9Z"/>
<path d="M635.5 1340.8L639.2 1352.2L651.2 1352.2L641.5 1359.2L645.2 1370.6L635.5 1363.5L625.8 1370.6L629.5 1359.2L619.8 1352.2L631.8 1352.2Z"/>
<path d="M643.0 1340.0L646.7 1351.4L658.7 1351.4L649.0 1358.4L652.7 1369.8L643.0 1362.8L633.3 1369.8L637.0 1358.4L627.3 1351.4L639.3 1351.4Z"/>
<path d="M658.0 1338.5L661.7 1349.9L673.7 1349.9L664.0 1356.9L667.7 1368.3L658.0 1361.3L648.3 1368.3L652.0 1356.9L642.3 1349.9L654.3 1349.9Z"/>
<path d="M673.0 1337.6L676.7 1349.0L688.7 1349.0L679.0 1356.0L682.7 1367.4L673.0 1360.4L663.3 1367.4L667.0 1356.0L657.3 1349.0L669.3 1349.0Z"/>
<path d="M680.5 1337.2L684.2 1348.6L696.2 1348.6L686.5 1355.6L690.2 1367.0L680.5 1360.0L670.8 1367.0L674.5 1355.6L664.8 1348.6L676.8 1348.6Z"/>
<path d="M698.0 1336.1L701.7 1347.5L713.7 1347.5L704.0 1354.5L707.7 1365.9L698.0 1358.9L688.3 1365.9L692.0 1354.5L682.3 1347.5L694.3 1347.5Z"/>
<path d="M708.0 1335.5L711.7 1346.9L723.7 1346.9L714.0 1353.9L717.7 1365.3L708.0 1358.3L698.3 1365.3L702.0 1353.9L692.3 1346.9L704.3 1346.9Z"/>
<path d="M718.0 1335.5L721.7 1346.9L733.7 1346.9L724.0 1353.9L727.7 1365.3L718.0 1358.3L708.3 1365.3L712.0 1353.9L702.3 1346.9L714.3 1346.9Z"/>
<path d="M735.5 1335.5L739.2 1346.9L751.2 1346.9L741.5 1353.9L745.2 1365.3L735.5 1358.3L725.8 1365.3L729.5 1353.9L719.8 1346.9L731.8 1346.9Z"/>
<path d="M743.0 1335.5L746.7 1346.9L758.7 1346.9L749.0 1353.9L752.7 1365.3L743.0 1358.3L733.3 1365.3L737.0 1353.9L727.3 1346.9L739.3 1346.9Z"/>
<path d="M758.0 1335.5L761.7 1346.9L773.7 1346.9L764.0 1353.9L767.7 1365.3L758.0 1358.3L748.3 1365.3L752.0 1353.9L742.3 1346.9L754.3 1346.9Z"/>
<path d="M773.0 1333.1L776.7 1344.5L788.7 1344.5L779.0 1351.5L782.7 1362.9L773.0 1355.9L763.3 1362.9L767.0 1351.5L757.3 1344.5L769.3 1344.5Z"/>
<path d="M780.5 1331.9L784.2 1343.3L796.2 1343.3L786.5 1350.3L790.2 1361.7L780.5 1354.7L770.8 1361.7L774.5 1350.3L764.8 1343.3L776.8 1343.3Z"/>
<path d="M798.0 1329.1L801.7 1340.5L813.7 1340.5L804.0 1347.5L807.7 1358.9L798.0 1351.9L788.3 1358.9L792.0 1347.5L782.3 1340.5L794.3 1340.5Z"/>
<path d="M805.5 1327.9L809.2 1339.3L821.2 1339.3L811.5 1346.3L815.2 1357.7L805.5 1350.7L795.8 1357.7L799.5 1346.3L789.8 1339.3L801.8 1339.3Z"/>
<path d="M823.0 1325.1L826.7 1336.5L838.7 1336.5L829.0 1343.5L832.7 1354.9L823.0 1347.9L813.3 1354.9L817.0 1343.5L807.3 1336.5L819.3 1336.5Z"/>
<path d="M833.0 1323.5L836.7 1334.9L848.7 1334.9L839.0 1341.9L842.7 1353.3L833.0 1346.3L823.3 1353.3L827.0 1341.9L817.3 1334.9L829.3 1334.9Z"/>
<path d="M843.5 1321.5L847.2 1332.9L859.2 1332.9L849.5 1339.9L853.2 1351.3L843.5 1344.3L833.8 1351.3L837.5 1339.9L827.8 1332.9L839.8 1332.9Z"/>
<path d="M861.5 1318.0L865.2 1329.4L877.2 1329.4L867.5 1336.5L871.2 1347.9L861.5 1340.8L851.8 1347.9L855.5 1336.5L845.8 1329.4L857.8 1329.4Z"/>
<path d="M869.5 1316.5L873.2 1327.9L885.2 1327.9L875.5 1334.9L879.2 1346.3L869.5 1339.3L859.8 1346.3L863.5 1334.9L853.8 1327.9L865.8 1327.9Z"/>
<path d="M887.5 1313.0L891.2 1324.4L903.2 1324.4L893.5 1331.5L897.2 1342.9L887.5 1335.8L877.8 1342.9L881.5 1331.5L871.8 1324.4L883.8 1324.4Z"/>
<path d="M898.0 1311.0L901.7 1322.4L913.7 1322.4L904.0 1329.4L907.7 1340.8L898.0 1333.8L888.3 1340.8L892.0 1329.4L882.3 1322.4L894.3 1322.4Z"/>
<path d="M914.2 1302.2L918.0 1313.7L929.9 1313.7L920.2 1320.7L923.9 1332.1L914.2 1325.0L904.6 1332.1L908.3 1320.7L898.6 1313.7L910.5 1313.7Z"/>
<path d="M930.5 1293.5L934.2 1304.9L946.2 1304.9L936.5 1311.9L940.2 1323.3L930.5 1316.3L920.8 1323.3L924.5 1311.9L914.8 1304.9L926.8 1304.9Z"/>
<path d="M944.2 1283.5L948.0 1294.9L959.9 1294.9L950.2 1301.9L953.9 1313.3L944.2 1306.3L934.6 1313.3L938.3 1301.9L928.6 1294.9L940.5 1294.9Z"/>
<path d="M958.0 1273.5L961.7 1284.9L973.7 1284.9L964.0 1291.9L967.7 1303.3L958.0 1296.3L948.3 1303.3L952.0 1291.9L942.3 1284.9L954.3 1284.9Z"/>
<path d="M970.5 1263.5L974.2 1274.9L986.2 1274.9L976.5 1281.9L980.2 1293.3L970.5 1286.3L960.8 1293.3L964.5 1281.9L954.8 1274.9L966.8 1274.9Z"/>
<path d="M983.0 1253.5L986.7 1264.9L998.7 1264.9L989.0 1271.9L992.7 1283.3L983.0 1276.3L973.3 1283.3L977.0 1271.9L967.3 1264.9L979.3 1264.9Z"/>
<path d="M993.6 1242.2L997.3 1253.7L1009.3 1253.7L999.6 1260.7L1003.3 1272.1L993.6 1265.0L983.9 1272.1L987.6 1260.7L977.9 1253.7L989.9 1253.7Z"/>
<path d="M1004.2 1231.0L1008.0 1242.4L1019.9 1242.4L1010.2 1249.4L1013.9 1260.8L1004.2 1253.8L994.6 1260.8L998.3 1249.4L988.6 1242.4L1000.5 1242.4Z"/>
<path d="M1023.0 1206.0L1026.7 1217.4L1038.7 1217.4L1029.0 1224.4L1032.7 1235.8L1023.0 1228.8L1013.3 1235.8L1017.0 1224.4L1007.3 1217.4L1019.3 1217.4Z"/>
<path d="M1036.8 1186.0L1040.5 1197.4L1052.4 1197.4L1042.7 1204.4L1046.4 1215.8L1036.8 1208.8L1027.1 1215.8L1030.8 1204.4L1021.1 1197.4L1033.0 1197.4Z"/>
<path d="M1051.8 1163.5L1055.5 1174.9L1067.4 1174.9L1057.7 1181.9L1061.4 1193.3L1051.8 1186.3L1042.1 1193.3L1045.8 1181.9L1036.1 1174.9L1048.0 1174.9Z"/>
<path d="M1064.2 1137.2L1068.0 1148.7L1079.9 1148.7L1070.2 1155.7L1073.9 1167.1L1064.2 1160.0L1054.6 1167.1L1058.3 1155.7L1048.6 1148.7L1060.5 1148.7Z"/>
<path d="M1076.8 1108.5L1080.5 1119.9L1092.4 1119.9L1082.7 1126.9L1086.4 1138.3L1076.8 1131.3L1067.1 1138.3L1070.8 1126.9L1061.1 1119.9L1073.0 1119.9Z"/>
<path d="M1089.2 1078.5L1093.0 1089.9L1104.9 1089.9L1095.2 1096.9L1098.9 1108.3L1089.2 1101.3L1079.6 1108.3L1083.3 1096.9L1073.6 1089.9L1085.5 1089.9Z"/>
<path d="M1105.0 1036.0L1108.7 1047.4L1120.7 1047.4L1111.0 1054.4L1114.7 1065.8L1105.0 1058.8L1095.3 1065.8L1099.0 1054.4L1089.3 1047.4L1101.3 1047.4Z"/>
<path d="M1118.0 998.5L1121.7 1009.9L1133.7 1009.9L1124.0 1016.9L1127.7 1028.3L1118.0 1021.3L1108.3 1028.3L1112.0 1016.9L1102.3 1009.9L1114.3 1009.9Z"/>
<path d="M1131.0 944.8L1134.7 956.2L1146.7 956.2L1137.0 963.2L1140.7 974.6L1131.0 967.5L1121.3 974.6L1125.0 963.2L1115.3 956.2L1127.3 956.2Z"/>
<path d="M1146.8 889.8L1150.5 901.2L1162.4 901.2L1152.7 908.2L1156.4 919.6L1146.8 912.5L1137.1 919.6L1140.8 908.2L1131.1 901.2L1143.0 901.2Z"/>
<path d="M1159.2 822.2L1163.0 833.7L1174.9 833.7L1165.2 840.7L1168.9 852.1L1159.2 845.0L1149.6 852.1L1153.3 840.7L1143.6 833.7L1155.5 833.7Z"/>
<path d="M1172.5 754.8L1176.2 766.2L1188.2 766.2L1178.5 773.2L1182.2 784.6L1172.5 777.5L1162.8 784.6L1166.5 773.2L1156.8 766.2L1168.8 766.2Z"/>
<path d="M1188.0 688.5L1191.7 699.9L1203.7 699.9L1194.0 706.9L1197.7 718.3L1188.0 711.3L1178.3 718.3L1182.0 706.9L1172.3 699.9L1184.3 699.9Z"/>
<path d="M1200.5 623.5L1204.2 634.9L1216.2 634.9L1206.5 641.9L1210.2 653.3L1200.5 646.3L1190.8 653.3L1194.5 641.9L1184.8 634.9L1196.8 634.9Z"/>
<path d="M1211.8 558.5L1215.5 569.9L1227.4 569.9L1217.7 576.9L1221.4 588.3L1211.8 581.3L1202.1 588.3L1205.8 576.9L1196.1 569.9L1208.0 569.9Z"/>
<path d="M1226.8 502.2L1230.5 513.7L1242.4 513.7L1232.7 520.7L1236.4 532.1L1226.8 525.0L1217.1 532.1L1220.8 520.7L1211.1 513.7L1223.0 513.7Z"/>
<path d="M1240.0 443.5L1243.7 454.9L1255.7 454.9L1246.0 461.9L1249.7 473.3L1240.0 466.3L1230.3 473.3L1234.0 461.9L1224.3 454.9L1236.3 454.9Z"/>
<path d="M1253.0 392.2L1256.7 403.7L1268.7 403.7L1259.0 410.7L1262.7 422.1L1253.0 415.1L1243.3 422.1L1247.0 410.7L1237.3 403.7L1249.3 403.7Z"/>
<path d="M1265.5 351.0L1269.2 362.4L1281.2 362.4L1271.5 369.4L1275.2 380.8L1265.5 373.8L1255.8 380.8L1259.5 369.4L1249.8 362.4L1261.8 362.4Z"/>
<path d="M1278.0 321.0L1281.7 332.4L1293.7 332.4L1284.0 339.4L1287.7 350.8L1278.0 343.8L1268.3 350.8L1272.0 339.4L1262.3 332.4L1274.3 332.4Z"/>
<path d="M1293.0 293.5L1296.7 304.9L1308.7 304.9L1299.0 311.9L1302.7 323.3L1293.0 316.3L1283.3 323.3L1287.0 311.9L1277.3 304.9L1289.3 304.9Z"/>
<path d="M1306.8 271.0L1310.5 282.4L1322.4 282.4L1312.7 289.4L1316.4 300.8L1306.8 293.8L1297.1 300.8L1300.8 289.4L1291.1 282.4L1303.0 282.4Z"/>
<path d="M1318.0 256.0L1321.7 267.4L1333.7 267.4L1324.0 274.4L1327.7 285.8L1318.0 278.8L1308.3 285.8L1312.0 274.4L1302.3 267.4L1314.3 267.4Z"/>
<path d="M1329.0 244.5L1332.7 255.9L1344.7 255.9L1335.0 262.9L1338.7 274.3L1329.0 267.3L1319.3 274.3L1323.0 262.9L1313.3 255.9L1325.3 255.9Z"/>
<path d="M1343.0 233.5L1346.7 244.9L1358.7 244.9L1349.0 251.9L1352.7 263.3L1343.0 256.3L1333.3 263.3L1337.0 251.9L1327.3 244.9L1339.3 244.9Z"/>
<path d="M1358.0 223.5L1361.7 234.9L1373.7 234.9L1364.0 241.9L1367.7 253.3L1358.0 246.3L1348.3 253.3L1352.0 241.9L1342.3 234.9L1354.3 234.9Z"/>
<path d="M1375.5 216.5L1379.2 227.9L1391.2 227.9L1381.5 234.9L1385.2 246.3L1375.5 239.3L1365.8 246.3L1369.5 234.9L1359.8 227.9L1371.8 227.9Z"/>
<path d="M1387.8 216.0L1391.5 227.4L1403.4 227.4L1393.7 234.4L1397.4 245.8L1387.8 238.8L1378.1 245.8L1381.8 234.4L1372.1 227.4L1384.0 227.4Z"/>
<path d="M1400.0 215.5L1403.7 226.9L1415.7 226.9L1406.0 233.9L1409.7 245.3L1400.0 238.3L1390.3 245.3L1394.0 233.9L1384.3 226.9L1396.3 226.9Z"/>
<path d="M1415.6 215.5L1419.3 226.9L1431.2 226.9L1421.5 233.9L1425.3 245.3L1415.6 238.3L1405.9 245.3L1409.6 233.9L1399.9 226.9L1411.9 226.9Z"/>
<path d="M1423.6 215.8L1427.3 227.2L1439.3 227.2L1429.6 234.3L1433.3 245.7L1423.6 238.6L1413.9 245.7L1417.6 234.3L1407.9 227.2L1419.9 227.2Z"/>
<path d="M1441.7 216.8L1445.4 228.2L1457.4 228.2L1447.7 235.3L1451.4 246.7L1441.7 239.6L1432.0 246.7L1435.7 235.3L1426.0 228.2L1438.0 228.2Z"/>
<path d="M1449.7 214.7L1453.4 226.1L1465.4 226.1L1455.7 233.1L1459.4 244.5L1449.7 237.5L1440.0 244.5L1443.7 233.1L1434.0 226.1L1446.0 226.1Z"/>
<path d="M1467.8 214.1L1471.5 225.5L1483.5 225.5L1473.8 232.6L1477.5 244.0L1467.8 236.9L1458.1 244.0L1461.8 232.6L1452.1 225.5L1464.1 225.5Z"/>
<path d="M1475.8 214.8L1479.5 226.2L1491.5 226.2L1481.8 233.2L1485.5 244.6L1475.8 237.6L1466.1 244.6L1469.8 233.2L1460.1 226.2L1472.1 226.2Z"/>
<path d="M1493.9 216.5L1497.6 227.9L1509.6 227.9L1499.9 234.9L1503.6 246.4L1493.9 239.3L1484.2 246.4L1487.9 234.9L1478.2 227.9L1490.2 227.9Z"/>
<path d="M1501.9 214.6L1505.6 226.0L1517.6 226.0L1507.9 233.1L1511.6 244.5L1501.9 237.4L1492.2 244.5L1495.9 233.1L1486.2 226.0L1498.2 226.0Z"/>
<path d="M1520.0 215.8L1523.7 227.2L1535.7 227.2L1526.0 234.2L1529.7 245.6L1520.0 238.6L1510.3 245.6L1514.0 234.2L1504.3 227.2L1516.3 227.2Z"/>
<path d="M1528.0 214.8L1531.7 226.2L1543.7 226.2L1534.0 233.2L1537.7 244.6L1528.0 237.6L1518.3 244.6L1522.0 233.2L1512.3 226.2L1524.3 226.2Z"/>
<path d="M1546.1 214.3L1549.8 225.7L1561.8 225.7L1552.1 232.8L1555.8 244.2L1546.1 237.1L1536.4 244.2L1540.1 232.8L1530.4 225.7L1542.4 225.7Z"/>
<path d="M1554.1 216.6L1557.9 228.0L1569.8 228.0L1560.1 235.0L1563.8 246.5L1554.1 239.4L1544.5 246.5L1548.2 235.0L1538.5 228.0L1550.4 228.0Z"/>
<path d="M1572.2 215.5L1575.9 226.9L1587.9 226.9L1578.2 234.0L1581.9 245.4L1572.2 238.3L1562.5 245.4L1566.2 234.0L1556.5 226.9L1568.5 226.9Z"/>
<path d="M1580.3 214.9L1584.0 226.3L1595.9 226.3L1586.2 233.4L1590.0 244.8L1580.3 237.7L1570.6 244.8L1574.3 233.4L1564.6 226.3L1576.6 226.3Z"/>
<path d="M1598.3 215.5L1602.0 226.9L1614.0 226.9L1604.3 233.9L1608.0 245.3L1598.3 238.3L1588.6 245.3L1592.3 233.9L1582.6 226.9L1594.6 226.9Z"/>
<path d="M1606.4 216.4L1610.1 227.8L1622.1 227.8L1612.4 234.9L1616.1 246.3L1606.4 239.2L1596.7 246.3L1600.4 234.9L1590.7 227.8L1602.7 227.8Z"/>
<path d="M1624.4 216.3L1628.1 227.7L1640.1 227.7L1630.4 234.7L1634.1 246.1L1624.4 239.1L1614.7 246.1L1618.4 234.7L1608.7 227.7L1620.7 227.7Z"/>
<path d="M1632.5 215.2L1636.2 226.6L1648.2 226.6L1638.5 233.6L1642.2 245.0L1632.5 238.0L1622.8 245.0L1626.5 233.6L1616.8 226.6L1628.8 226.6Z"/>
<path d="M1650.5 216.0L1654.2 227.4L1666.2 227.4L1656.5 234.4L1660.2 245.8L1650.5 238.8L1640.8 245.8L1644.5 234.4L1634.8 227.4L1646.8 227.4Z"/>
<path d="M1658.6 215.2L1662.3 226.6L1674.3 226.6L1664.6 233.6L1668.3 245.0L1658.6 238.0L1648.9 245.0L1652.6 233.6L1642.9 226.6L1654.9 226.6Z"/>
<path d="M1676.6 215.3L1680.3 226.7L1692.3 226.7L1682.6 233.8L1686.3 245.2L1676.6 238.1L1666.9 245.2L1670.6 233.8L1660.9 226.7L1672.9 226.7Z"/>
<path d="M1684.7 214.5L1688.4 225.9L1700.4 225.9L1690.7 232.9L1694.4 244.3L1684.7 237.3L1675.0 244.3L1678.7 232.9L1669.0 225.9L1681.0 225.9Z"/>
<path d="M1702.7 214.9L1706.4 226.3L1718.4 226.3L1708.7 233.4L1712.4 244.8L1702.7 237.7L1693.0 244.8L1696.8 233.4L1687.1 226.3L1699.0 226.3Z"/>
<path d="M1710.8 215.5L1714.5 226.9L1726.5 226.9L1716.8 233.9L1720.5 245.3L1710.8 238.3L1701.1 245.3L1704.8 233.9L1695.1 226.9L1707.1 226.9Z"/>
<path d="M1728.9 215.7L1732.6 227.1L1744.5 227.1L1734.8 234.2L1738.5 245.6L1728.9 238.5L1719.2 245.6L1722.9 234.2L1713.2 227.1L1725.1 227.1Z"/>
<path d="M1736.9 214.2L1740.6 225.6L1752.6 225.6L1742.9 232.6L1746.6 244.0L1736.9 237.0L1727.2 244.0L1730.9 232.6L1721.2 225.6L1733.2 225.6Z"/>
<path d="M1755.0 214.3L1758.7 225.7L1770.7 225.7L1761.0 232.8L1764.7 244.2L1755.0 237.1L1745.3 244.2L1749.0 232.8L1739.3 225.7L1751.3 225.7Z"/>
<path d="M1763.0 215.8L1766.7 227.2L1778.7 227.2L1769.0 234.3L1772.7 245.7L1763.0 238.6L1753.3 245.7L1757.0 234.3L1747.3 227.2L1759.3 227.2Z"/>
<path d="M1781.1 216.2L1784.8 227.6L1796.8 227.6L1787.1 234.7L1790.8 246.1L1781.1 239.0L1771.4 246.1L1775.1 234.7L1765.4 227.6L1777.4 227.6Z"/>
<path d="M1789.1 216.6L1792.8 228.0L1804.8 228.0L1795.1 235.1L1798.8 246.5L1789.1 239.4L1779.4 246.5L1783.1 235.1L1773.4 228.0L1785.4 228.0Z"/>
<path d="M1807.2 215.9L1810.9 227.3L1822.9 227.3L1813.2 234.3L1816.9 245.7L1807.2 238.7L1797.5 245.7L1801.2 234.3L1791.5 227.3L1803.5 227.3Z"/>
<path d="M1815.2 214.4L1818.9 225.8L1830.9 225.8L1821.2 232.8L1824.9 244.2L1815.2 237.2L1805.5 244.2L1809.2 232.8L1799.5 225.8L1811.5 225.8Z"/>
<path d="M1833.3 216.6L1837.0 228.1L1849.0 228.0L1839.3 235.1L1843.0 246.5L1833.3 239.4L1823.6 246.5L1827.3 235.1L1817.6 228.0L1829.6 228.1Z"/>
<path d="M1841.3 216.7L1845.0 228.1L1857.0 228.1L1847.3 235.1L1851.0 246.5L1841.3 239.5L1831.6 246.5L1835.3 235.1L1825.6 228.1L1837.6 228.1Z"/>
<path d="M1859.4 216.8L1863.1 228.2L1875.1 228.2L1865.4 235.3L1869.1 246.7L1859.4 239.6L1849.7 246.7L1853.4 235.3L1843.7 228.2L1855.7 228.2Z"/>
<path d="M1867.4 215.4L1871.1 226.8L1883.1 226.8L1873.4 233.9L1877.1 245.3L1867.4 238.2L1857.7 245.3L1861.5 233.9L1851.8 226.8L1863.7 226.8Z"/>
<path d="M1883.0 215.5L1886.7 226.9L1898.7 226.9L1889.0 233.9L1892.7 245.3L1883.0 238.3L1873.3 245.3L1877.0 233.9L1867.3 226.9L1879.3 226.9Z"/>
</g>
<path d="M1218.4 1106.0L1221.6 1091.5M1231.2 1048.5L1234.8 1031.5M1243.8 988.4L1248.7 964.1M1257.6 921.0L1262.9 896.5M1272.0 853.5L1279.2 819.0M1288.5 776.0L1290.0 769.5M1300.1 726.7L1304.4 710.1M1315.5 667.5L1317.2 661.2M1329.4 619.0L1331.6 612.0" fill="none" stroke="#0dbdbd" stroke-width="1.6" stroke-dasharray="12 8"/>
<g fill="#fff" stroke="#0dbdbd" stroke-width="2.0">
<path d="M213.0 1541.0L233.0 1522.5L253.0 1541.0L233.0 1559.5Z"/>
<path d="M222.8 1540.2L242.8 1521.7L262.8 1540.2L242.8 1558.7Z"/>
<path d="M240.2 1538.8L260.2 1520.3L280.2 1538.8L260.2 1557.3Z"/>
<path d="M247.5 1538.2L267.5 1519.7L287.5 1538.2L267.5 1556.7Z"/>
<path d="M264.8 1536.8L284.8 1518.3L304.8 1536.8L284.8 1555.3Z"/>
<path d="M272.2 1536.2L292.2 1517.7L312.2 1536.2L292.2 1554.7Z"/>
<path d="M287.0 1535.0L307.0 1516.5L327.0 1535.0L307.0 1553.5Z"/>
<path d="M302.9 1532.6L322.9 1514.1L342.9 1532.6L322.9 1551.1Z"/>
<path d="M311.3 1531.4L331.3 1512.9L351.3 1531.4L331.3 1549.9Z"/>
<path d="M329.7 1528.6L349.7 1510.1L369.7 1528.6L349.7 1547.1Z"/>
<path d="M338.1 1527.4L358.1 1508.9L378.1 1527.4L358.1 1545.9Z"/>
<path d="M354.0 1525.0L374.0 1506.5L394.0 1525.0L374.0 1543.5Z"/>
<path d="M368.7 1523.8L388.7 1505.3L408.7 1523.8L388.7 1542.3Z"/>
<path d="M375.9 1523.2L395.9 1504.7L415.9 1523.2L395.9 1541.7Z"/>
<path d="M393.1 1521.8L413.1 1503.3L433.1 1521.8L413.1 1540.3Z"/>
<path d="M400.3 1521.2L420.3 1502.7L440.3 1521.2L420.3 1539.7Z"/>
<path d="M415.0 1520.0L435.0 1501.5L455.0 1520.0L435.0 1538.5Z"/>
<path d="M430.5 1518.6L450.5 1500.1L470.5 1518.6L450.5 1537.1Z"/>
<path d="M438.5 1517.8L458.5 1499.3L478.5 1517.8L458.5 1536.3Z"/>
<path d="M456.5 1516.2L476.5 1497.7L496.5 1516.2L476.5 1534.7Z"/>
<path d="M464.5 1515.4L484.5 1496.9L504.5 1515.4L484.5 1533.9Z"/>
<path d="M480.0 1514.0L500.0 1495.5L520.0 1514.0L500.0 1532.5Z"/>
<path d="M495.0 1512.8L515.0 1494.3L535.0 1512.8L515.0 1531.3Z"/>
<path d="M502.5 1512.2L522.5 1493.7L542.5 1512.2L522.5 1530.7Z"/>
<path d="M520.0 1510.8L540.0 1492.3L560.0 1510.8L540.0 1529.3Z"/>
<path d="M527.5 1510.2L547.5 1491.7L567.5 1510.2L547.5 1528.7Z"/>
<path d="M545.0 1508.8L565.0 1490.3L585.0 1508.8L565.0 1527.3Z"/>
<path d="M552.5 1508.2L572.5 1489.7L592.5 1508.2L572.5 1526.7Z"/>
<path d="M570.0 1506.8L590.0 1488.3L610.0 1506.8L590.0 1525.3Z"/>
<path d="M580.0 1506.0L600.0 1487.5L620.0 1506.0L600.0 1524.5Z"/>
<path d="M590.8 1505.0L610.8 1486.5L630.8 1505.0L610.8 1523.5Z"/>
<path d="M609.2 1503.3L629.2 1484.8L649.2 1503.3L629.2 1521.8Z"/>
<path d="M617.5 1502.6L637.5 1484.1L657.5 1502.6L637.5 1521.1Z"/>
<path d="M635.8 1500.9L655.8 1482.4L675.8 1500.9L655.8 1519.4Z"/>
<path d="M644.2 1500.1L664.2 1481.6L684.2 1500.1L664.2 1518.6Z"/>
<path d="M662.5 1498.4L682.5 1479.9L702.5 1498.4L682.5 1516.9Z"/>
<path d="M670.8 1497.7L690.8 1479.2L710.8 1497.7L690.8 1516.2Z"/>
<path d="M689.2 1496.0L709.2 1477.5L729.2 1496.0L709.2 1514.5Z"/>
<path d="M700.0 1495.0L720.0 1476.5L740.0 1495.0L720.0 1513.5Z"/>
<path d="M710.1 1493.4L730.1 1474.9L750.1 1493.4L730.1 1511.9Z"/>
<path d="M727.6 1490.6L747.6 1472.1L767.6 1490.6L747.6 1509.1Z"/>
<path d="M735.2 1489.4L755.2 1470.9L775.2 1489.4L755.2 1507.9Z"/>
<path d="M752.8 1486.6L772.8 1468.1L792.8 1486.6L772.8 1505.1Z"/>
<path d="M760.4 1485.4L780.4 1466.9L800.4 1485.4L780.4 1503.9Z"/>
<path d="M777.9 1482.6L797.9 1464.1L817.9 1482.6L797.9 1501.1Z"/>
<path d="M788.0 1481.0L808.0 1462.5L828.0 1481.0L808.0 1499.5Z"/>
<path d="M798.6 1480.0L818.6 1461.5L838.6 1480.0L818.6 1498.5Z"/>
<path d="M816.8 1478.2L836.8 1459.7L856.8 1478.2L836.8 1496.7Z"/>
<path d="M824.9 1477.4L844.9 1458.9L864.9 1477.4L844.9 1495.9Z"/>
<path d="M843.1 1475.6L863.1 1457.1L883.1 1475.6L863.1 1494.1Z"/>
<path d="M851.2 1474.8L871.2 1456.3L891.2 1474.8L871.2 1493.3Z"/>
<path d="M869.4 1473.0L889.4 1454.5L909.4 1473.0L889.4 1491.5Z"/>
<path d="M880.0 1472.0L900.0 1453.5L920.0 1472.0L900.0 1490.5Z"/>
<path d="M891.0 1471.0L911.0 1452.5L931.0 1471.0L911.0 1489.5Z"/>
<path d="M909.5 1469.4L929.5 1450.9L949.5 1469.4L929.5 1487.9Z"/>
<path d="M918.0 1468.7L938.0 1450.2L958.0 1468.7L938.0 1487.2Z"/>
<path d="M936.5 1467.0L956.5 1448.5L976.5 1467.0L956.5 1485.5Z"/>
<path d="M945.0 1466.3L965.0 1447.8L985.0 1466.3L965.0 1484.8Z"/>
<path d="M963.5 1464.7L983.5 1446.2L1003.5 1464.7L983.5 1483.2Z"/>
<path d="M972.0 1463.9L992.0 1445.4L1012.0 1463.9L992.0 1482.4Z"/>
<path d="M988.0 1462.5L1008.0 1444.0L1028.0 1462.5L1008.0 1481.0Z"/>
<path d="M1000.5 1460.2L1020.5 1441.8L1040.5 1460.2L1020.5 1478.8Z"/>
<path d="M1013.0 1458.0L1033.0 1439.5L1053.0 1458.0L1033.0 1476.5Z"/>
<path d="M1024.2 1454.5L1044.2 1436.0L1064.2 1454.5L1044.2 1473.0Z"/>
<path d="M1035.5 1451.0L1055.5 1432.5L1075.5 1451.0L1055.5 1469.5Z"/>
<path d="M1055.5 1427.5L1075.5 1409.0L1095.5 1427.5L1075.5 1446.0Z"/>
<path d="M1073.0 1408.8L1093.0 1390.2L1113.0 1408.8L1093.0 1427.2Z"/>
<path d="M1085.5 1392.5L1105.5 1374.0L1125.5 1392.5L1105.5 1411.0Z"/>
<path d="M1097.2 1375.0L1117.2 1356.5L1137.2 1375.0L1117.2 1393.5Z"/>
<path d="M1110.5 1351.0L1130.5 1332.5L1150.5 1351.0L1130.5 1369.5Z"/>
<path d="M1124.2 1325.0L1144.2 1306.5L1164.2 1325.0L1144.2 1343.5Z"/>
<path d="M1139.8 1291.0L1159.8 1272.5L1179.8 1291.0L1159.8 1309.5Z"/>
<path d="M1155.0 1257.5L1175.0 1239.0L1195.0 1257.5L1175.0 1276.0Z"/>
<path d="M1165.5 1216.0L1185.5 1197.5L1205.5 1216.0L1185.5 1234.5Z"/>
<path d="M1181.0 1172.5L1201.0 1154.0L1221.0 1172.5L1201.0 1191.0Z"/>
<path d="M1193.5 1127.5L1213.5 1109.0L1233.5 1127.5L1213.5 1146.0Z"/>
<path d="M1206.5 1070.0L1226.5 1051.5L1246.5 1070.0L1226.5 1088.5Z"/>
<path d="M1219.5 1010.0L1239.5 991.5L1259.5 1010.0L1239.5 1028.5Z"/>
<path d="M1233.0 942.5L1253.0 924.0L1273.0 942.5L1253.0 961.0Z"/>
<path d="M1247.5 875.0L1267.5 856.5L1287.5 875.0L1267.5 893.5Z"/>
<path d="M1263.8 797.5L1283.8 779.0L1303.8 797.5L1283.8 816.0Z"/>
<path d="M1274.8 748.0L1294.8 729.5L1314.8 748.0L1294.8 766.5Z"/>
<path d="M1289.8 688.8L1309.8 670.2L1329.8 688.8L1309.8 707.2Z"/>
<path d="M1303.0 640.0L1323.0 621.5L1343.0 640.0L1323.0 658.5Z"/>
<path d="M1318.0 591.0L1338.0 572.5L1358.0 591.0L1338.0 609.5Z"/>
<path d="M1331.0 555.0L1351.0 536.5L1371.0 555.0L1351.0 573.5Z"/>
<path d="M1341.8 510.0L1361.8 491.5L1381.8 510.0L1361.8 528.5Z"/>
<path d="M1357.5 472.5L1377.5 454.0L1397.5 472.5L1377.5 491.0Z"/>
<path d="M1373.0 432.5L1393.0 414.0L1413.0 432.5L1393.0 451.0Z"/>
<path d="M1385.5 407.5L1405.5 389.0L1425.5 407.5L1405.5 426.0Z"/>
<path d="M1398.8 375.0L1418.8 356.5L1438.8 375.0L1418.8 393.5Z"/>
<path d="M1409.2 355.0L1429.2 336.5L1449.2 355.0L1429.2 373.5Z"/>
<path d="M1424.2 327.5L1444.2 309.0L1464.2 327.5L1444.2 346.0Z"/>
<path d="M1435.5 312.5L1455.5 294.0L1475.5 312.5L1455.5 331.0Z"/>
<path d="M1448.0 300.0L1468.0 281.5L1488.0 300.0L1468.0 318.5Z"/>
<path d="M1465.5 282.5L1485.5 264.0L1505.5 282.5L1485.5 301.0Z"/>
<path d="M1480.5 275.0L1500.5 256.5L1520.5 275.0L1500.5 293.5Z"/>
<path d="M1493.0 265.0L1513.0 246.5L1533.0 265.0L1513.0 283.5Z"/>
<path d="M1508.0 255.0L1528.0 236.5L1548.0 255.0L1528.0 273.5Z"/>
<path d="M1520.5 250.0L1540.5 231.5L1560.5 250.0L1540.5 268.5Z"/>
<path d="M1535.5 247.5L1555.5 229.0L1575.5 247.5L1555.5 266.0Z"/>
<path d="M1550.5 242.5L1570.5 224.0L1590.5 242.5L1570.5 261.0Z"/>
<path d="M1570.0 240.0L1590.0 221.5L1610.0 240.0L1590.0 258.5Z"/>
<path d="M1588.0 237.5L1608.0 219.0L1628.0 237.5L1608.0 256.0Z"/>
<path d="M1601.5 235.8L1621.5 217.2L1641.5 235.8L1621.5 254.2Z"/>
<path d="M1615.0 234.0L1635.0 215.5L1655.0 234.0L1635.0 252.5Z"/>
<path d="M1626.5 232.8L1646.5 214.2L1666.5 232.8L1646.5 251.2Z"/>
<path d="M1638.0 231.5L1658.0 213.0L1678.0 231.5L1658.0 250.0Z"/>
<path d="M1653.7 231.4L1673.7 212.9L1693.7 231.4L1673.7 249.9Z"/>
<path d="M1662.0 232.3L1682.0 213.8L1702.0 232.3L1682.0 250.8Z"/>
<path d="M1680.2 232.0L1700.2 213.5L1720.2 232.0L1700.2 250.5Z"/>
<path d="M1688.4 230.9L1708.4 212.4L1728.4 230.9L1708.4 249.4Z"/>
<path d="M1706.7 231.5L1726.7 213.0L1746.7 231.5L1726.7 250.0Z"/>
<path d="M1714.9 230.7L1734.9 212.2L1754.9 230.7L1734.9 249.2Z"/>
<path d="M1733.1 230.7L1753.1 212.2L1773.1 230.7L1753.1 249.2Z"/>
<path d="M1741.4 229.8L1761.4 211.3L1781.4 229.8L1761.4 248.3Z"/>
<path d="M1759.6 230.1L1779.6 211.6L1799.6 230.1L1779.6 248.6Z"/>
<path d="M1767.9 230.6L1787.9 212.1L1807.9 230.6L1787.9 249.1Z"/>
<path d="M1786.1 230.8L1806.1 212.3L1826.1 230.8L1806.1 249.3Z"/>
<path d="M1794.3 229.1L1814.3 210.6L1834.3 229.1L1814.3 247.6Z"/>
<path d="M1812.6 229.2L1832.6 210.7L1852.6 229.2L1832.6 247.7Z"/>
<path d="M1820.8 230.6L1840.8 212.1L1860.8 230.6L1840.8 249.1Z"/>
<path d="M1839.0 230.9L1859.0 212.4L1879.0 230.9L1859.0 249.4Z"/>
<path d="M1847.3 231.2L1867.3 212.7L1887.3 231.2L1867.3 249.7Z"/>
<path d="M1863.0 230.0L1883.0 211.5L1903.0 230.0L1883.0 248.5Z"/>
</g>
<path d="M1125.7 1226.2L1127.3 1217.6M1137.1 1172.6L1141.4 1154.9M1150.4 1109.8L1153.1 1092.7M1161.8 1047.6L1167.9 1020.4M1176.2 975.2L1180.6 944.0M1188.5 898.7L1194.5 870.0M1203.5 824.9L1210.5 787.1M1218.7 741.8L1226.1 699.7M1233.6 654.3L1236.9 632.7M1243.6 587.2L1247.4 560.3M1256.8 515.4L1260.5 502.1M1272.1 457.6L1276.4 439.9" fill="none" stroke="#e6a520" stroke-width="2.0" stroke-dasharray="12 8"/>
<g fill="#fff" stroke="#e6a520" stroke-width="2.0">
<path d="M212.2 1546.0L243.4 1528.0L243.4 1564.0Z"/>
<path d="M222.8 1549.7L254.0 1531.7L254.0 1567.7Z"/>
<path d="M240.9 1542.4L272.1 1524.4L272.1 1560.4Z"/>
<path d="M249.0 1548.8L280.2 1530.8L280.2 1566.8Z"/>
<path d="M267.1 1547.6L298.3 1529.6L298.3 1565.6Z"/>
<path d="M275.2 1549.6L306.4 1531.6L306.4 1567.6Z"/>
<path d="M293.3 1547.1L324.5 1529.1L324.5 1565.1Z"/>
<path d="M301.4 1542.8L332.6 1524.8L332.6 1560.9Z"/>
<path d="M319.6 1548.0L350.8 1530.0L350.8 1566.1Z"/>
<path d="M327.7 1545.0L358.9 1527.0L358.9 1563.0Z"/>
<path d="M345.8 1543.9L377.0 1525.9L377.0 1561.9Z"/>
<path d="M353.9 1544.0L385.1 1526.0L385.1 1562.0Z"/>
<path d="M372.0 1549.0L403.2 1531.0L403.2 1567.0Z"/>
<path d="M380.1 1543.6L411.3 1525.5L411.3 1561.6Z"/>
<path d="M398.2 1544.1L429.4 1526.1L429.4 1562.1Z"/>
<path d="M406.3 1547.9L437.5 1529.9L437.5 1565.9Z"/>
<path d="M424.4 1549.7L455.6 1531.7L455.6 1567.7Z"/>
<path d="M432.5 1549.6L463.7 1531.6L463.7 1567.6Z"/>
<path d="M450.6 1548.9L481.8 1530.9L481.8 1566.9Z"/>
<path d="M458.7 1547.4L489.9 1529.4L489.9 1565.4Z"/>
<path d="M476.8 1542.3L508.0 1524.3L508.0 1560.3Z"/>
<path d="M484.9 1544.7L516.1 1526.7L516.1 1562.7Z"/>
<path d="M503.1 1547.0L534.3 1529.0L534.3 1565.0Z"/>
<path d="M511.2 1546.7L542.4 1528.7L542.4 1564.7Z"/>
<path d="M529.3 1543.1L560.5 1525.1L560.5 1561.2Z"/>
<path d="M537.4 1546.3L568.6 1528.3L568.6 1564.3Z"/>
<path d="M555.5 1545.5L586.7 1527.5L586.7 1563.5Z"/>
<path d="M563.6 1548.3L594.8 1530.3L594.8 1566.3Z"/>
<path d="M579.2 1546.0L610.4 1528.0L610.4 1564.0Z"/>
<path d="M594.2 1545.5L625.4 1527.5L625.4 1563.6Z"/>
<path d="M601.7 1545.3L632.9 1527.3L632.9 1563.3Z"/>
<path d="M619.2 1544.8L650.4 1526.8L650.4 1562.8Z"/>
<path d="M626.7 1544.6L657.9 1526.6L657.9 1562.6Z"/>
<path d="M644.2 1544.0L675.4 1526.0L675.4 1562.1Z"/>
<path d="M651.7 1543.8L682.9 1525.8L682.9 1561.8Z"/>
<path d="M669.2 1543.3L700.4 1525.3L700.4 1561.3Z"/>
<path d="M679.2 1543.0L710.4 1525.0L710.4 1561.0Z"/>
<path d="M691.2 1541.8L722.4 1523.7L722.4 1559.8Z"/>
<path d="M710.7 1539.7L741.9 1521.7L741.9 1557.8Z"/>
<path d="M720.2 1538.8L751.4 1520.7L751.4 1556.8Z"/>
<path d="M737.2 1537.0L768.4 1519.0L768.4 1555.0Z"/>
<path d="M752.8 1536.0L784.0 1518.0L784.0 1554.0Z"/>
<path d="M761.0 1535.4L792.2 1517.4L792.2 1553.5Z"/>
<path d="M779.1 1534.3L810.3 1516.3L810.3 1552.3Z"/>
<path d="M787.3 1533.7L818.5 1515.7L818.5 1551.7Z"/>
<path d="M805.4 1532.6L836.6 1514.5L836.6 1550.6Z"/>
<path d="M813.6 1532.0L844.8 1514.0L844.8 1550.0Z"/>
<path d="M829.2 1531.0L860.4 1513.0L860.4 1549.0Z"/>
<path d="M844.7 1529.6L875.9 1511.6L875.9 1547.6Z"/>
<path d="M852.7 1528.8L883.9 1510.8L883.9 1546.8Z"/>
<path d="M870.7 1527.2L901.9 1509.2L901.9 1545.2Z"/>
<path d="M878.7 1526.4L909.9 1508.4L909.9 1544.4Z"/>
<path d="M894.2 1525.0L925.4 1507.0L925.4 1543.0Z"/>
<path d="M905.9 1522.3L937.1 1504.3L937.1 1540.3Z"/>
<path d="M917.5 1519.7L948.7 1501.7L948.7 1537.7Z"/>
<path d="M929.2 1517.0L960.4 1499.0L960.4 1535.0Z"/>
<path d="M941.5 1513.0L972.6 1495.0L972.6 1531.0Z"/>
<path d="M953.7 1509.0L984.9 1491.0L984.9 1527.0Z"/>
<path d="M966.0 1505.0L997.1 1487.0L997.1 1523.0Z"/>
<path d="M978.5 1495.5L1009.6 1477.5L1009.6 1513.5Z"/>
<path d="M991.0 1486.0L1022.1 1468.0L1022.1 1504.0Z"/>
<path d="M1004.1 1475.5L1035.3 1457.5L1035.3 1493.5Z"/>
<path d="M1017.2 1465.0L1048.4 1447.0L1048.4 1483.0Z"/>
<path d="M1027.2 1438.8L1058.4 1420.7L1058.4 1456.8Z"/>
<path d="M1043.0 1412.5L1074.2 1394.5L1074.2 1430.5Z"/>
<path d="M1053.5 1372.0L1084.7 1354.0L1084.7 1390.0Z"/>
<path d="M1069.2 1335.0L1100.4 1317.0L1100.4 1353.0Z"/>
<path d="M1084.2 1288.8L1115.4 1270.7L1115.4 1306.8Z"/>
<path d="M1100.5 1248.8L1131.7 1230.7L1131.7 1266.8Z"/>
<path d="M1111.0 1195.0L1142.2 1177.0L1142.2 1213.0Z"/>
<path d="M1126.0 1132.5L1157.2 1114.5L1157.2 1150.5Z"/>
<path d="M1136.0 1070.0L1167.2 1052.0L1167.2 1088.0Z"/>
<path d="M1152.2 998.0L1183.4 980.0L1183.4 1016.0Z"/>
<path d="M1163.0 921.2L1194.2 903.2L1194.2 939.3Z"/>
<path d="M1178.5 847.5L1209.7 829.5L1209.7 865.5Z"/>
<path d="M1194.0 764.5L1225.2 746.5L1225.2 782.5Z"/>
<path d="M1209.2 677.0L1240.4 659.0L1240.4 695.0Z"/>
<path d="M1219.7 610.0L1250.9 592.0L1250.9 628.0Z"/>
<path d="M1229.7 537.5L1260.9 519.5L1260.9 555.5Z"/>
<path d="M1246.0 480.0L1277.2 462.0L1277.2 498.0Z"/>
<path d="M1261.0 417.5L1292.2 399.5L1292.2 435.5Z"/>
<path d="M1271.0 371.0L1302.2 353.0L1302.2 389.0Z"/>
<path d="M1287.2 337.5L1318.4 319.5L1318.4 355.5Z"/>
<path d="M1297.2 302.5L1328.4 284.5L1328.4 320.5Z"/>
<path d="M1313.5 282.5L1344.7 264.5L1344.7 300.5Z"/>
<path d="M1329.7 268.8L1360.9 250.7L1360.9 286.8Z"/>
<path d="M1344.7 255.0L1375.9 237.0L1375.9 273.0Z"/>
<path d="M1356.0 248.8L1387.2 230.7L1387.2 266.8Z"/>
<path d="M1371.0 242.5L1402.2 224.5L1402.2 260.5Z"/>
<path d="M1383.2 236.0L1414.4 218.0L1414.4 254.0Z"/>
<path d="M1399.2 232.0L1430.4 214.0L1430.4 250.0Z"/>
<path d="M1419.2 229.0L1450.4 211.0L1450.4 247.0Z"/>
<path d="M1434.7 229.1L1465.9 211.0L1465.9 247.1Z"/>
<path d="M1442.8 227.5L1474.0 209.5L1474.0 245.5Z"/>
<path d="M1460.8 228.9L1492.0 210.9L1492.0 246.9Z"/>
<path d="M1468.8 231.3L1500.0 213.3L1500.0 249.3Z"/>
<path d="M1486.8 230.9L1518.0 212.9L1518.0 248.9Z"/>
<path d="M1494.9 228.2L1526.1 210.1L1526.1 246.2Z"/>
<path d="M1512.9 230.1L1544.1 212.1L1544.1 248.1Z"/>
<path d="M1520.9 228.1L1552.1 210.1L1552.1 246.1Z"/>
<path d="M1539.0 228.4L1570.2 210.4L1570.2 246.4Z"/>
<path d="M1547.0 226.3L1578.2 208.3L1578.2 244.3Z"/>
<path d="M1565.0 227.4L1596.2 209.3L1596.2 245.4Z"/>
<path d="M1573.1 228.7L1604.3 210.7L1604.3 246.7Z"/>
<path d="M1591.1 229.4L1622.3 211.4L1622.3 247.4Z"/>
<path d="M1599.1 225.5L1630.3 207.5L1630.3 243.5Z"/>
<path d="M1617.1 225.8L1648.3 207.8L1648.3 243.9Z"/>
<path d="M1625.2 229.6L1656.4 211.6L1656.4 247.6Z"/>
<path d="M1643.2 230.6L1674.4 212.6L1674.4 248.6Z"/>
<path d="M1651.2 231.6L1682.4 213.6L1682.4 249.6Z"/>
<path d="M1669.3 229.7L1700.5 211.7L1700.5 247.7Z"/>
<path d="M1677.3 225.8L1708.5 207.8L1708.5 243.8Z"/>
<path d="M1695.3 231.6L1726.5 213.6L1726.5 249.6Z"/>
<path d="M1703.3 231.7L1734.5 213.7L1734.5 249.7Z"/>
<path d="M1721.4 232.0L1752.6 214.0L1752.6 250.1Z"/>
<path d="M1729.4 228.5L1760.6 210.4L1760.6 246.5Z"/>
<path d="M1747.4 227.1L1778.6 209.1L1778.6 245.1Z"/>
<path d="M1755.5 231.5L1786.7 213.5L1786.7 249.6Z"/>
<path d="M1773.5 227.0L1804.7 209.0L1804.7 245.0Z"/>
<path d="M1781.5 225.3L1812.7 207.3L1812.7 243.3Z"/>
<path d="M1799.6 231.2L1830.8 213.2L1830.8 249.2Z"/>
<path d="M1807.6 231.2L1838.8 213.2L1838.8 249.3Z"/>
<path d="M1825.6 230.9L1856.8 212.9L1856.8 248.9Z"/>
<path d="M1833.6 228.1L1864.8 210.1L1864.8 246.1Z"/>
<path d="M1851.7 231.5L1882.9 213.5L1882.9 249.5Z"/>
<path d="M1862.2 228.5L1893.4 210.5L1893.4 246.5Z"/>
</g>
</g>
<line x1="238" y1="360.8" x2="1883" y2="360.8" stroke="#000" stroke-width="2.2" stroke-dasharray="15 4.5 2.5 4.5"/>
<line x1="238" y1="884.3" x2="1883" y2="884.3" stroke="#000" stroke-width="2.2" stroke-dasharray="15 4.5 2.5 4.5"/>
<rect x="243.75" y="34.75" width="643.5" height="129" fill="#fff" stroke="#000" stroke-width="1.5"/>
<line x1="249.5" y1="70.8" x2="365" y2="70.8" stroke="#555" stroke-width="1.3"/>
<rect x="295" y="55" width="33" height="32" fill="#555"/>
<line x1="249.5" y1="133" x2="365" y2="133" stroke="#000" stroke-width="1.3" stroke-dasharray="9 9"/>
<rect x="295.5" y="117" width="32" height="31" fill="#fff" stroke="#000" stroke-width="1.3"/>
<g font-family="'Liberation Sans', Arial, sans-serif" font-weight="bold" font-size="50" fill="#000">
<text id="l1" transform="translate(388,85) scale(1,1.015)" textLength="385.5" lengthAdjust="spacing">single oxidation</text>
<text id="l2" transform="translate(388,147.5) scale(1,1.015)" textLength="477" lengthAdjust="spacing">oxidation in mixture</text>
</g>
<rect x="1348.25" y="1148.75" width="768" height="393.5" fill="#fff" stroke="#000" stroke-width="1.5"/>
<line x1="1353" y1="1185.0" x2="1469" y2="1185.0" stroke="#1a6fdf" stroke-width="1.4"/>
<path d="M1411.2 1163.7L1429.6 1195.7L1392.8 1195.7Z" fill="#1a6fdf"/>
<line x1="1353" y1="1262.5" x2="1469" y2="1262.5" stroke="#37ad6b" stroke-width="1.4"/>
<path d="M1411.2 1246.8L1427.4 1256.2L1427.4 1274.8L1411.2 1284.2L1395.0 1274.8L1395.0 1256.2Z" fill="#37ad6b"/>
<line x1="1353" y1="1340.5" x2="1469" y2="1340.5" stroke="#00c7c7" stroke-width="1.4"/>
<path d="M1389.7 1343.0L1422.0 1324.4L1422.0 1361.6Z" fill="#00c7c7"/>
<line x1="1353" y1="1418.0" x2="1469" y2="1418.0" stroke="#cc9a06" stroke-width="1.4"/>
<path d="M1390.0 1420.5L1411.2 1401.8L1432.5 1420.5L1411.2 1439.2Z" fill="#cc9a06"/>
<line x1="1353" y1="1495.5" x2="1469" y2="1495.5" stroke="#d633ff" stroke-width="1.4"/>
<path d="M1411.2 1479.5L1415.4 1491.2L1427.8 1491.6L1418.0 1499.2L1421.5 1511.2L1411.2 1504.2L1400.9 1511.2L1404.4 1499.2L1394.6 1491.6L1407.0 1491.2Z" fill="#d633ff"/>
<g font-family="'Liberation Sans', Arial, sans-serif" font-weight="bold" fill="#000">
<text transform="scale(1,1.045)"><tspan x="1480.5" y="1149.28" font-size="51.0" font-style="italic" letter-spacing="-0.60">Cu</tspan><tspan x="1548.7" y="1163.16" font-size="49.5" font-style="italic">6</tspan><tspan x="1578.6" y="1149.28" font-size="51.0" font-style="italic" letter-spacing="-1.52">Al</tspan><tspan x="1627.8" y="1163.16" font-size="49.5" font-style="italic">2</tspan></text>
<text transform="scale(1,1.045)"><tspan x="1480.5" y="1227.75" font-size="51.0" font-style="italic" letter-spacing="-0.60">Cu</tspan><tspan x="1548.7" y="1238.09" font-size="49.5" font-style="italic">6</tspan><tspan x="1578.6" y="1227.75" font-size="51.0" font-style="italic" letter-spacing="-1.52">Al</tspan><tspan x="1629.2" y="1238.09" font-size="49.5" font-style="italic">1</tspan><tspan x="1656.5" y="1238.09" font-size="49.5" font-style="italic">.</tspan><tspan x="1668.8" y="1238.09" font-size="49.5" font-style="italic">2</tspan><tspan x="1698.9" y="1226.32" font-size="51.0" font-style="normal" letter-spacing="0.04">Ce</tspan><tspan x="1759.3" y="1238.09" font-size="49.5" font-style="italic">0</tspan><tspan x="1785.1" y="1238.09" font-size="49.5" font-style="italic">.</tspan><tspan x="1801.7" y="1238.09" font-size="49.5" font-style="italic">8</tspan></text>
<text transform="scale(1,1.045)"><tspan x="1478.0" y="1302.39" font-size="51.0" font-style="normal">(</tspan><tspan x="1501.8" y="1302.39" font-size="51.0" font-style="italic" letter-spacing="-2.40">Cu</tspan><tspan x="1563.7" y="1311.48" font-size="49.5" font-style="italic">6</tspan><tspan x="1593.9" y="1302.39" font-size="51.0" font-style="italic" letter-spacing="-1.82">Al</tspan><tspan x="1642.8" y="1311.48" font-size="49.5" font-style="italic">2</tspan><tspan x="1671.6" y="1302.39" font-size="51.0" font-style="italic">-</tspan><tspan x="1688.1" y="1302.39" font-size="51.0" font-style="italic" letter-spacing="-1.07">HT</tspan><tspan x="1754.6" y="1302.39" font-size="51.0" font-style="normal">+</tspan><tspan x="1782.2" y="1302.39" font-size="51.0" font-style="normal" letter-spacing="0.34">Ce</tspan><tspan x="1846.2" y="1302.39" font-size="51.0" font-style="italic">(</tspan><tspan x="1863.4" y="1302.39" font-size="51.0" font-style="italic" letter-spacing="-1.46">NO</tspan><tspan x="1937.2" y="1311.48" font-size="49.5" font-style="italic">3</tspan><tspan x="1968.0" y="1302.39" font-size="51.0" font-style="normal">)</tspan><tspan x="1983.9" y="1311.48" font-size="49.5" font-style="italic">3</tspan><tspan x="2010.0" y="1302.39" font-size="51.0" font-style="normal">)</tspan><tspan x="2025.7" y="1311.48" font-size="49.5" font-style="italic" letter-spacing="0.59">500</tspan></text>
<text transform="scale(1,1.045)"><tspan x="1478.0" y="1377.03" font-size="51.0" font-style="normal">(</tspan><tspan x="1501.8" y="1377.03" font-size="51.0" font-style="italic" letter-spacing="-2.40">Cu</tspan><tspan x="1563.7" y="1386.22" font-size="49.5" font-style="italic">6</tspan><tspan x="1593.9" y="1377.03" font-size="51.0" font-style="italic" letter-spacing="-1.82">Al</tspan><tspan x="1642.8" y="1386.22" font-size="49.5" font-style="italic">2</tspan><tspan x="1670.8" y="1377.03" font-size="51.0" font-style="normal">+</tspan><tspan x="1699.3" y="1377.03" font-size="51.0" font-style="normal" letter-spacing="-1.36">Ce</tspan><tspan x="1766.5" y="1377.03" font-size="51.0" font-style="italic">O</tspan><tspan x="1802.6" y="1386.22" font-size="49.5" font-style="normal">2</tspan><tspan x="1833.8" y="1377.03" font-size="51.0" font-style="normal">)</tspan><tspan x="1848.5" y="1386.22" font-size="49.5" font-style="italic" letter-spacing="-1.31">500</tspan></text>
<text transform="scale(1,1.045)"><tspan x="1480.5" y="1451.39" font-size="51.0" font-style="italic" letter-spacing="-0.66">CuO</tspan><tspan x="1587.6" y="1451.39" font-size="51.0" font-style="italic">-</tspan><tspan x="1605.5" y="1451.39" font-size="51.0" font-style="italic" letter-spacing="-2.26">CeO</tspan><tspan x="1708.6" y="1460.48" font-size="36.0" font-style="italic">2</tspan><tspan x="1722.6" y="1451.39" font-size="51.0" font-style="italic">-</tspan><tspan x="1739.6" y="1451.39" font-size="51.0" font-style="italic" letter-spacing="-1.52">Al</tspan><tspan x="1792.6" y="1460.48" font-size="36.0" font-style="italic">2</tspan><tspan x="1812.3" y="1451.39" font-size="51.0" font-style="italic">O</tspan><tspan x="1845.7" y="1460.48" font-size="36.0" font-style="italic">3</tspan></text>
</g>
</svg>
</body></html>
